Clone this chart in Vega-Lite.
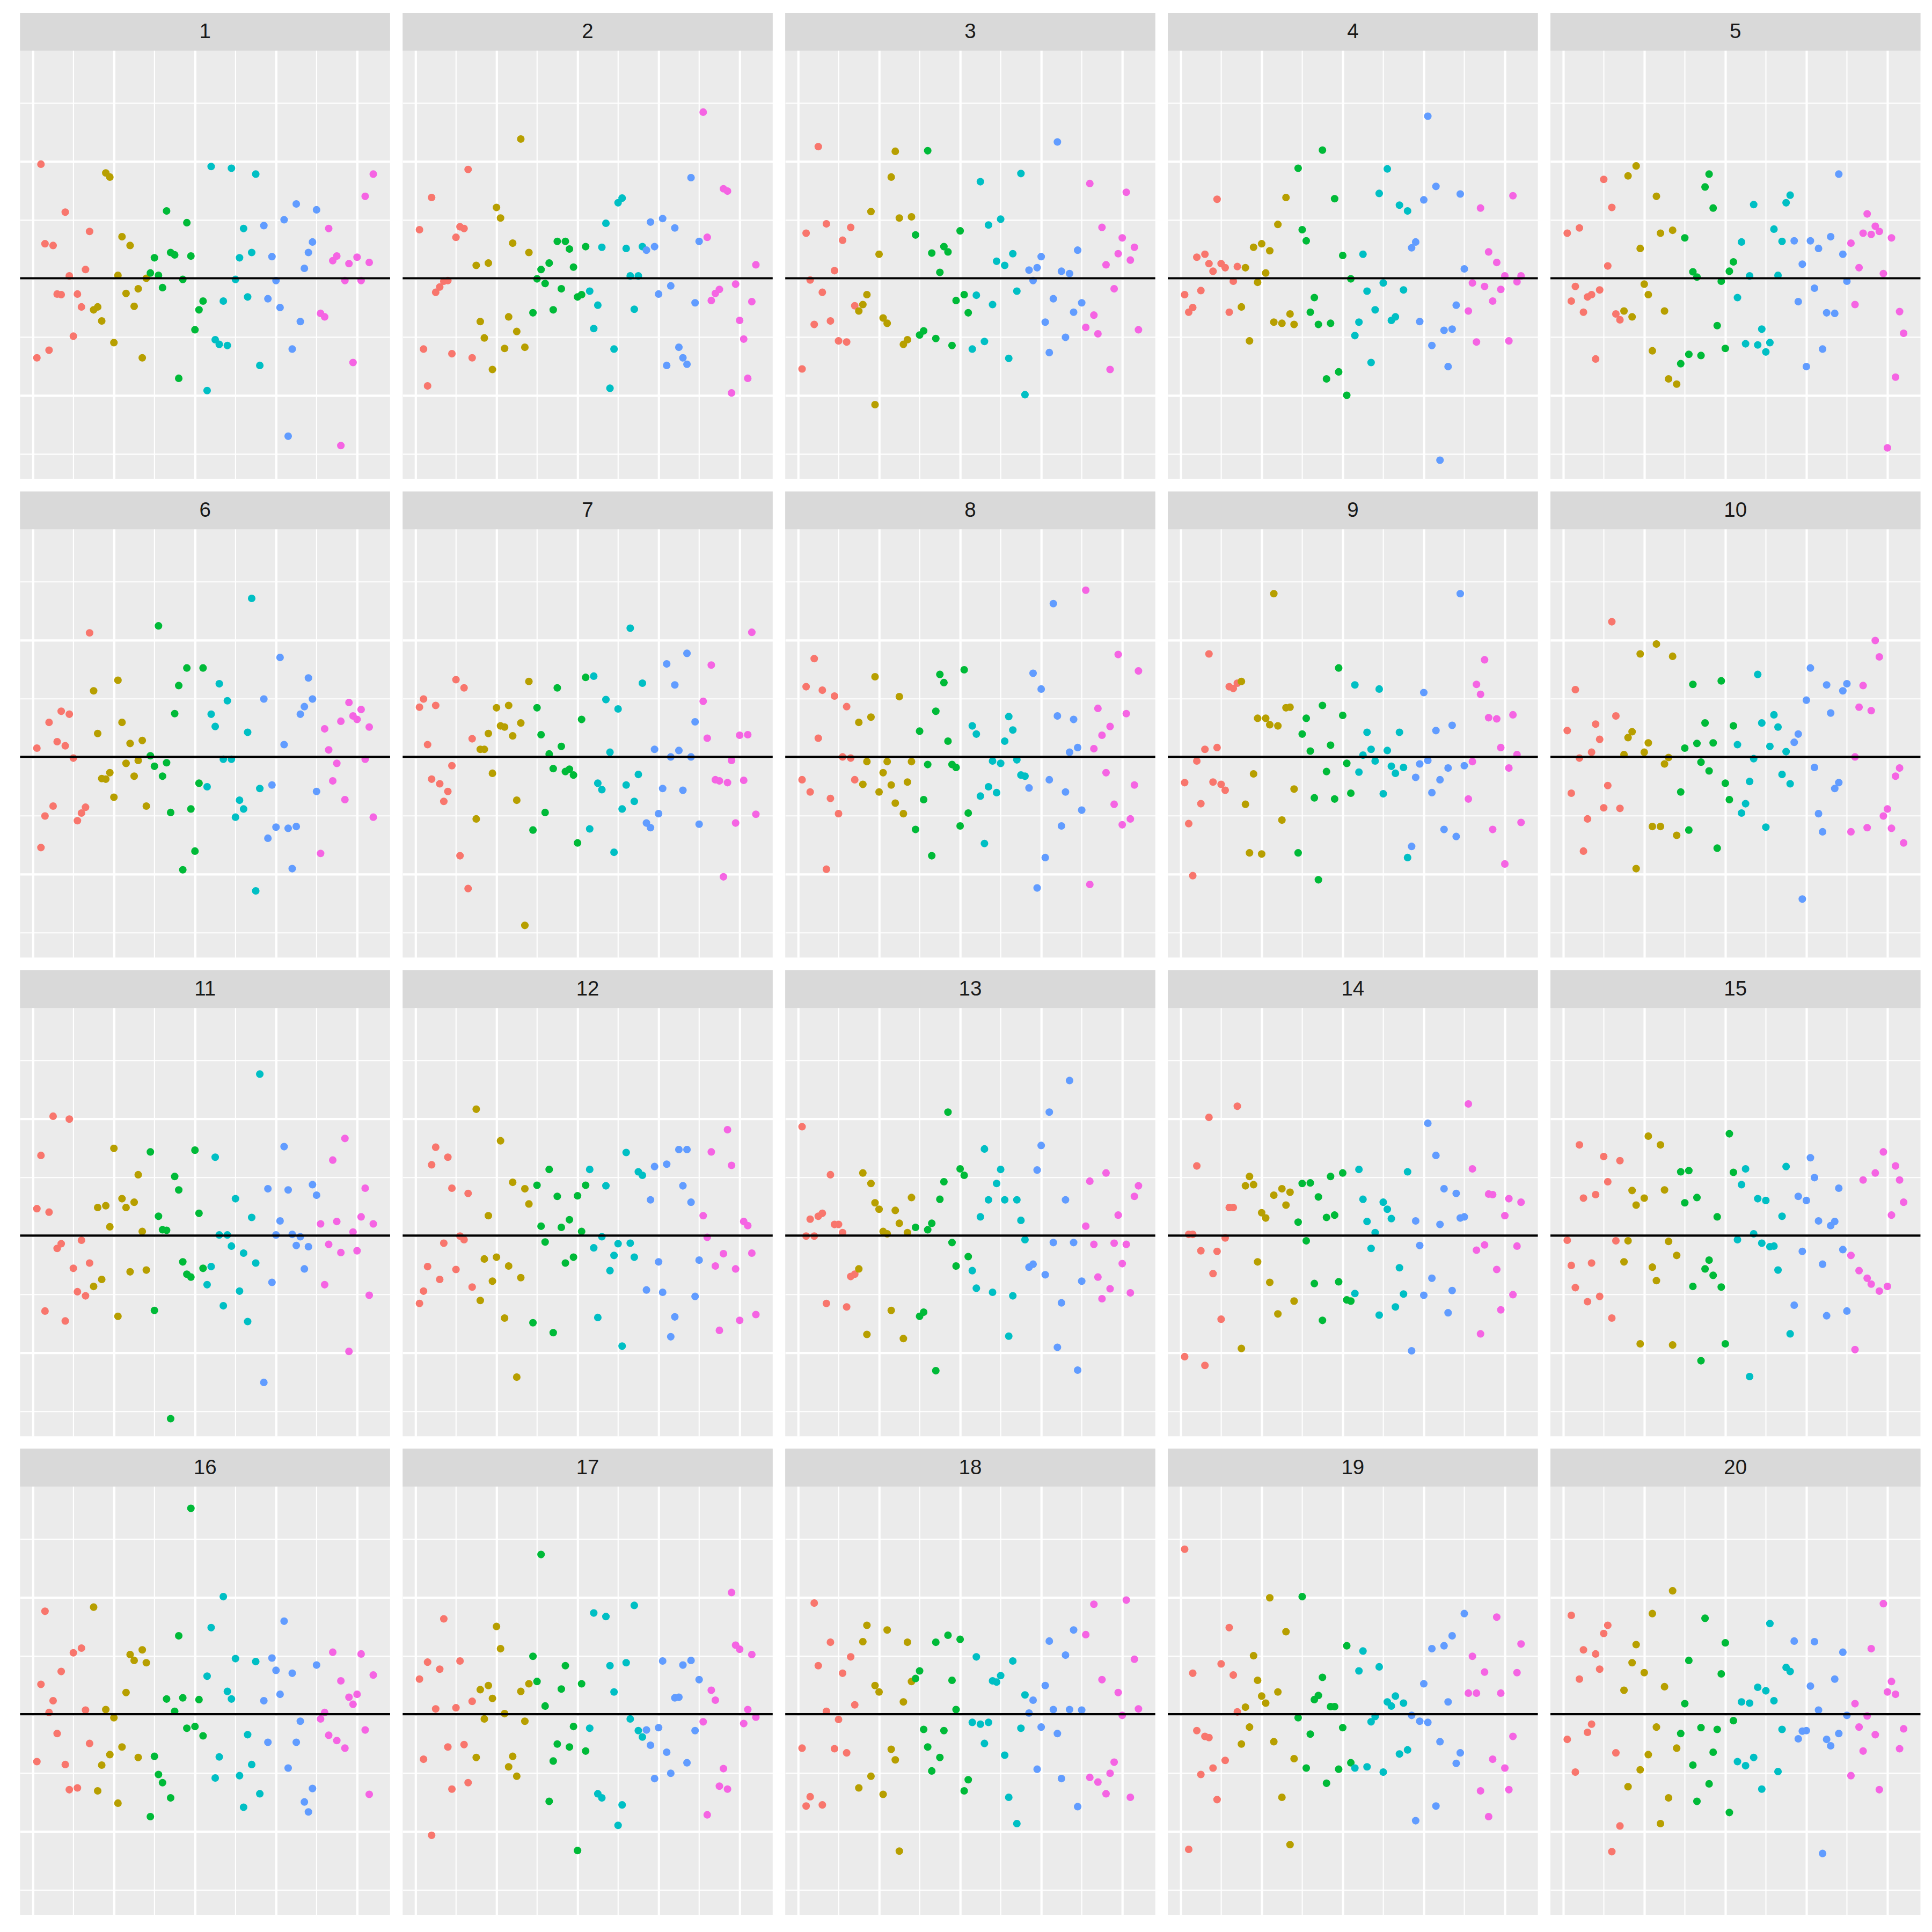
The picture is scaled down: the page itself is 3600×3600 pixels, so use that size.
{
"$schema": "https://vega.github.io/schema/vega-lite/v6.json",
"background": "white",
"bounds": "flush",
"padding": {"left": 34.4, "top": 22.9, "right": 0, "bottom": 0},
"data": {"values": [
{"p":1,"x":1,"g":1,"y":-1.36},{"p":1,"x":2,"g":1,"y":1.95},{"p":1,"x":3,"g":1,"y":0.59},{"p":1,"x":4,"g":1,"y":-1.23},{"p":1,"x":5,"g":1,"y":0.56},{"p":1,"x":6,"g":1,"y":-0.27},{"p":1,"x":7,"g":1,"y":-0.28},{"p":1,"x":8,"g":1,"y":1.13},{"p":1,"x":9,"g":1,"y":0.04},{"p":1,"x":10,"g":1,"y":-0.99},{"p":1,"x":11,"g":1,"y":-0.27},{"p":1,"x":12,"g":1,"y":-0.49},{"p":1,"x":13,"g":1,"y":0.15},{"p":1,"x":14,"g":1,"y":0.80},
{"p":1,"x":15,"g":2,"y":-0.54},{"p":1,"x":16,"g":2,"y":-0.49},{"p":1,"x":17,"g":2,"y":-0.73},{"p":1,"x":18,"g":2,"y":1.80},{"p":1,"x":19,"g":2,"y":1.73},{"p":1,"x":20,"g":2,"y":-1.10},{"p":1,"x":21,"g":2,"y":0.05},{"p":1,"x":22,"g":2,"y":0.71},{"p":1,"x":23,"g":2,"y":-0.26},{"p":1,"x":24,"g":2,"y":0.56},{"p":1,"x":25,"g":2,"y":-0.48},{"p":1,"x":26,"g":2,"y":-0.18},{"p":1,"x":27,"g":2,"y":-1.36},{"p":1,"x":28,"g":2,"y":0.00},
{"p":1,"x":29,"g":3,"y":0.09},{"p":1,"x":30,"g":3,"y":0.35},{"p":1,"x":31,"g":3,"y":0.05},{"p":1,"x":32,"g":3,"y":-0.16},{"p":1,"x":33,"g":3,"y":1.15},{"p":1,"x":34,"g":3,"y":0.44},{"p":1,"x":35,"g":3,"y":0.40},{"p":1,"x":36,"g":3,"y":-1.71},{"p":1,"x":37,"g":3,"y":-0.02},{"p":1,"x":38,"g":3,"y":0.95},{"p":1,"x":39,"g":3,"y":0.38},{"p":1,"x":40,"g":3,"y":-0.88},{"p":1,"x":41,"g":3,"y":-0.54},{"p":1,"x":42,"g":3,"y":-0.39},
{"p":1,"x":43,"g":4,"y":-1.92},{"p":1,"x":44,"g":4,"y":1.91},{"p":1,"x":45,"g":4,"y":-1.05},{"p":1,"x":46,"g":4,"y":-1.13},{"p":1,"x":47,"g":4,"y":-0.39},{"p":1,"x":48,"g":4,"y":-1.15},{"p":1,"x":49,"g":4,"y":1.88},{"p":1,"x":50,"g":4,"y":-0.02},{"p":1,"x":51,"g":4,"y":0.35},{"p":1,"x":52,"g":4,"y":0.85},{"p":1,"x":53,"g":4,"y":-0.32},{"p":1,"x":54,"g":4,"y":0.44},{"p":1,"x":55,"g":4,"y":1.78},{"p":1,"x":56,"g":4,"y":-1.49},
{"p":1,"x":57,"g":5,"y":0.90},{"p":1,"x":58,"g":5,"y":-0.35},{"p":1,"x":59,"g":5,"y":0.37},{"p":1,"x":60,"g":5,"y":-0.04},{"p":1,"x":61,"g":5,"y":-0.50},{"p":1,"x":62,"g":5,"y":1.00},{"p":1,"x":63,"g":5,"y":-2.70},{"p":1,"x":64,"g":5,"y":-1.21},{"p":1,"x":65,"g":5,"y":1.27},{"p":1,"x":66,"g":5,"y":-0.74},{"p":1,"x":67,"g":5,"y":0.17},{"p":1,"x":68,"g":5,"y":0.44},{"p":1,"x":69,"g":5,"y":0.62},{"p":1,"x":70,"g":5,"y":1.17},
{"p":1,"x":71,"g":6,"y":-0.60},{"p":1,"x":72,"g":6,"y":-0.66},{"p":1,"x":73,"g":6,"y":0.85},{"p":1,"x":74,"g":6,"y":0.30},{"p":1,"x":75,"g":6,"y":0.38},{"p":1,"x":76,"g":6,"y":-2.86},{"p":1,"x":77,"g":6,"y":-0.04},{"p":1,"x":78,"g":6,"y":0.25},{"p":1,"x":79,"g":6,"y":-1.44},{"p":1,"x":80,"g":6,"y":0.36},{"p":1,"x":81,"g":6,"y":-0.04},{"p":1,"x":82,"g":6,"y":1.40},{"p":1,"x":83,"g":6,"y":0.27},{"p":1,"x":84,"g":6,"y":1.78},
{"p":2,"x":1,"g":1,"y":0.83},{"p":2,"x":2,"g":1,"y":-1.21},{"p":2,"x":3,"g":1,"y":-1.84},{"p":2,"x":4,"g":1,"y":1.38},{"p":2,"x":5,"g":1,"y":-0.24},{"p":2,"x":6,"g":1,"y":-0.15},{"p":2,"x":7,"g":1,"y":-0.05},{"p":2,"x":8,"g":1,"y":-0.04},{"p":2,"x":9,"g":1,"y":-1.29},{"p":2,"x":10,"g":1,"y":0.70},{"p":2,"x":11,"g":1,"y":0.88},{"p":2,"x":12,"g":1,"y":0.85},{"p":2,"x":13,"g":1,"y":1.86},{"p":2,"x":14,"g":1,"y":-1.36},
{"p":2,"x":15,"g":2,"y":0.22},{"p":2,"x":16,"g":2,"y":-0.74},{"p":2,"x":17,"g":2,"y":-1.02},{"p":2,"x":18,"g":2,"y":0.26},{"p":2,"x":19,"g":2,"y":-1.56},{"p":2,"x":20,"g":2,"y":1.21},{"p":2,"x":21,"g":2,"y":1.03},{"p":2,"x":22,"g":2,"y":-1.20},{"p":2,"x":23,"g":2,"y":-0.66},{"p":2,"x":24,"g":2,"y":0.60},{"p":2,"x":25,"g":2,"y":-0.91},{"p":2,"x":26,"g":2,"y":2.38},{"p":2,"x":27,"g":2,"y":-1.18},{"p":2,"x":28,"g":2,"y":0.44},
{"p":2,"x":29,"g":3,"y":-0.59},{"p":2,"x":30,"g":3,"y":-0.01},{"p":2,"x":31,"g":3,"y":0.15},{"p":2,"x":32,"g":3,"y":-0.09},{"p":2,"x":33,"g":3,"y":0.26},{"p":2,"x":34,"g":3,"y":-0.54},{"p":2,"x":35,"g":3,"y":0.63},{"p":2,"x":36,"g":3,"y":-0.18},{"p":2,"x":37,"g":3,"y":0.63},{"p":2,"x":38,"g":3,"y":0.50},{"p":2,"x":39,"g":3,"y":0.19},{"p":2,"x":40,"g":3,"y":-0.32},{"p":2,"x":41,"g":3,"y":-0.28},{"p":2,"x":42,"g":3,"y":0.54},
{"p":2,"x":43,"g":4,"y":-0.22},{"p":2,"x":44,"g":4,"y":-0.86},{"p":2,"x":45,"g":4,"y":-0.46},{"p":2,"x":46,"g":4,"y":0.53},{"p":2,"x":47,"g":4,"y":0.94},{"p":2,"x":48,"g":4,"y":-1.88},{"p":2,"x":49,"g":4,"y":-1.21},{"p":2,"x":50,"g":4,"y":1.29},{"p":2,"x":51,"g":4,"y":1.37},{"p":2,"x":52,"g":4,"y":0.51},{"p":2,"x":53,"g":4,"y":0.04},{"p":2,"x":54,"g":4,"y":-0.53},{"p":2,"x":55,"g":4,"y":0.04},{"p":2,"x":56,"g":4,"y":0.54},
{"p":2,"x":57,"g":5,"y":0.48},{"p":2,"x":58,"g":5,"y":0.96},{"p":2,"x":59,"g":5,"y":0.54},{"p":2,"x":60,"g":5,"y":-0.27},{"p":2,"x":61,"g":5,"y":1.02},{"p":2,"x":62,"g":5,"y":-1.49},{"p":2,"x":63,"g":5,"y":-0.13},{"p":2,"x":64,"g":5,"y":0.86},{"p":2,"x":65,"g":5,"y":-1.18},{"p":2,"x":66,"g":5,"y":-1.36},{"p":2,"x":67,"g":5,"y":-1.47},{"p":2,"x":68,"g":5,"y":1.72},{"p":2,"x":69,"g":5,"y":-0.42},{"p":2,"x":70,"g":5,"y":0.63},
{"p":2,"x":71,"g":6,"y":2.84},{"p":2,"x":72,"g":6,"y":0.70},{"p":2,"x":73,"g":6,"y":-0.38},{"p":2,"x":74,"g":6,"y":-0.26},{"p":2,"x":75,"g":6,"y":-0.19},{"p":2,"x":76,"g":6,"y":1.53},{"p":2,"x":77,"g":6,"y":1.49},{"p":2,"x":78,"g":6,"y":-1.96},{"p":2,"x":79,"g":6,"y":-0.10},{"p":2,"x":80,"g":6,"y":-0.72},{"p":2,"x":81,"g":6,"y":-1.04},{"p":2,"x":82,"g":6,"y":-1.71},{"p":2,"x":83,"g":6,"y":-0.40},{"p":2,"x":84,"g":6,"y":0.23},
{"p":3,"x":1,"g":1,"y":-1.55},{"p":3,"x":2,"g":1,"y":0.77},{"p":3,"x":3,"g":1,"y":-0.03},{"p":3,"x":4,"g":1,"y":-0.79},{"p":3,"x":5,"g":1,"y":2.25},{"p":3,"x":6,"g":1,"y":-0.24},{"p":3,"x":7,"g":1,"y":0.93},{"p":3,"x":8,"g":1,"y":-0.73},{"p":3,"x":9,"g":1,"y":0.13},{"p":3,"x":10,"g":1,"y":-1.07},{"p":3,"x":11,"g":1,"y":0.65},{"p":3,"x":12,"g":1,"y":-1.09},{"p":3,"x":13,"g":1,"y":0.87},{"p":3,"x":14,"g":1,"y":-0.47},
{"p":3,"x":15,"g":2,"y":-0.56},{"p":3,"x":16,"g":2,"y":-0.45},{"p":3,"x":17,"g":2,"y":-0.28},{"p":3,"x":18,"g":2,"y":1.14},{"p":3,"x":19,"g":2,"y":-2.16},{"p":3,"x":20,"g":2,"y":0.41},{"p":3,"x":21,"g":2,"y":-0.68},{"p":3,"x":22,"g":2,"y":-0.77},{"p":3,"x":23,"g":2,"y":1.73},{"p":3,"x":24,"g":2,"y":2.17},{"p":3,"x":25,"g":2,"y":1.03},{"p":3,"x":26,"g":2,"y":-1.13},{"p":3,"x":27,"g":2,"y":-1.05},{"p":3,"x":28,"g":2,"y":1.05},
{"p":3,"x":29,"g":3,"y":0.74},{"p":3,"x":30,"g":3,"y":-0.97},{"p":3,"x":31,"g":3,"y":-0.90},{"p":3,"x":32,"g":3,"y":2.18},{"p":3,"x":33,"g":3,"y":0.43},{"p":3,"x":34,"g":3,"y":-1.03},{"p":3,"x":35,"g":3,"y":0.10},{"p":3,"x":36,"g":3,"y":0.54},{"p":3,"x":37,"g":3,"y":0.45},{"p":3,"x":38,"g":3,"y":-1.15},{"p":3,"x":39,"g":3,"y":-0.38},{"p":3,"x":40,"g":3,"y":0.81},{"p":3,"x":41,"g":3,"y":-0.28},{"p":3,"x":42,"g":3,"y":-0.59},
{"p":3,"x":43,"g":4,"y":-1.21},{"p":3,"x":44,"g":4,"y":-0.29},{"p":3,"x":45,"g":4,"y":1.65},{"p":3,"x":46,"g":4,"y":-1.08},{"p":3,"x":47,"g":4,"y":0.91},{"p":3,"x":48,"g":4,"y":-0.45},{"p":3,"x":49,"g":4,"y":0.29},{"p":3,"x":50,"g":4,"y":1.01},{"p":3,"x":51,"g":4,"y":0.22},{"p":3,"x":52,"g":4,"y":-1.37},{"p":3,"x":53,"g":4,"y":0.42},{"p":3,"x":54,"g":4,"y":-0.22},{"p":3,"x":55,"g":4,"y":1.79},{"p":3,"x":56,"g":4,"y":-1.99},
{"p":3,"x":57,"g":5,"y":0.14},{"p":3,"x":58,"g":5,"y":-0.04},{"p":3,"x":59,"g":5,"y":0.18},{"p":3,"x":60,"g":5,"y":0.37},{"p":3,"x":61,"g":5,"y":-0.75},{"p":3,"x":62,"g":5,"y":-1.27},{"p":3,"x":63,"g":5,"y":-0.35},{"p":3,"x":64,"g":5,"y":2.33},{"p":3,"x":65,"g":5,"y":0.12},{"p":3,"x":66,"g":5,"y":-1.01},{"p":3,"x":67,"g":5,"y":0.08},{"p":3,"x":68,"g":5,"y":-0.58},{"p":3,"x":69,"g":5,"y":0.48},{"p":3,"x":70,"g":5,"y":-0.42},
{"p":3,"x":71,"g":6,"y":-0.84},{"p":3,"x":72,"g":6,"y":1.62},{"p":3,"x":73,"g":6,"y":-0.63},{"p":3,"x":74,"g":6,"y":-0.95},{"p":3,"x":75,"g":6,"y":0.87},{"p":3,"x":76,"g":6,"y":0.23},{"p":3,"x":77,"g":6,"y":-1.56},{"p":3,"x":78,"g":6,"y":-0.18},{"p":3,"x":79,"g":6,"y":0.42},{"p":3,"x":80,"g":6,"y":0.69},{"p":3,"x":81,"g":6,"y":1.47},{"p":3,"x":82,"g":6,"y":0.31},{"p":3,"x":83,"g":6,"y":0.53},{"p":3,"x":84,"g":6,"y":-0.88},
{"p":4,"x":1,"g":1,"y":-0.28},{"p":4,"x":2,"g":1,"y":-0.58},{"p":4,"x":3,"g":1,"y":-0.50},{"p":4,"x":4,"g":1,"y":0.36},{"p":4,"x":5,"g":1,"y":-0.21},{"p":4,"x":6,"g":1,"y":0.41},{"p":4,"x":7,"g":1,"y":0.25},{"p":4,"x":8,"g":1,"y":0.12},{"p":4,"x":9,"g":1,"y":1.35},{"p":4,"x":10,"g":1,"y":0.25},{"p":4,"x":11,"g":1,"y":0.18},{"p":4,"x":12,"g":1,"y":-0.58},{"p":4,"x":13,"g":1,"y":-0.05},{"p":4,"x":14,"g":1,"y":0.20},
{"p":4,"x":15,"g":2,"y":-0.49},{"p":4,"x":16,"g":2,"y":0.18},{"p":4,"x":17,"g":2,"y":-1.07},{"p":4,"x":18,"g":2,"y":0.53},{"p":4,"x":19,"g":2,"y":-0.07},{"p":4,"x":20,"g":2,"y":0.59},{"p":4,"x":21,"g":2,"y":0.09},{"p":4,"x":22,"g":2,"y":0.47},{"p":4,"x":23,"g":2,"y":-0.75},{"p":4,"x":24,"g":2,"y":0.92},{"p":4,"x":25,"g":2,"y":-0.77},{"p":4,"x":26,"g":2,"y":1.38},{"p":4,"x":27,"g":2,"y":-0.61},{"p":4,"x":28,"g":2,"y":-0.79},
{"p":4,"x":29,"g":3,"y":1.88},{"p":4,"x":30,"g":3,"y":0.83},{"p":4,"x":31,"g":3,"y":0.64},{"p":4,"x":32,"g":3,"y":-0.58},{"p":4,"x":33,"g":3,"y":-0.33},{"p":4,"x":34,"g":3,"y":-0.79},{"p":4,"x":35,"g":3,"y":2.19},{"p":4,"x":36,"g":3,"y":-1.72},{"p":4,"x":37,"g":3,"y":-0.77},{"p":4,"x":38,"g":3,"y":1.36},{"p":4,"x":39,"g":3,"y":-1.60},{"p":4,"x":40,"g":3,"y":0.39},{"p":4,"x":41,"g":3,"y":-2.00},{"p":4,"x":42,"g":3,"y":-0.01},
{"p":4,"x":43,"g":4,"y":-0.98},{"p":4,"x":44,"g":4,"y":-0.75},{"p":4,"x":45,"g":4,"y":0.41},{"p":4,"x":46,"g":4,"y":-0.22},{"p":4,"x":47,"g":4,"y":-1.44},{"p":4,"x":48,"g":4,"y":-0.54},{"p":4,"x":49,"g":4,"y":1.45},{"p":4,"x":50,"g":4,"y":-0.08},{"p":4,"x":51,"g":4,"y":1.87},{"p":4,"x":52,"g":4,"y":-0.72},{"p":4,"x":53,"g":4,"y":-0.66},{"p":4,"x":54,"g":4,"y":1.25},{"p":4,"x":55,"g":4,"y":-0.20},{"p":4,"x":56,"g":4,"y":1.15},
{"p":4,"x":57,"g":5,"y":0.52},{"p":4,"x":58,"g":5,"y":0.62},{"p":4,"x":59,"g":5,"y":-0.74},{"p":4,"x":60,"g":5,"y":1.34},{"p":4,"x":61,"g":5,"y":2.77},{"p":4,"x":62,"g":5,"y":-1.15},{"p":4,"x":63,"g":5,"y":1.57},{"p":4,"x":64,"g":5,"y":-3.11},{"p":4,"x":65,"g":5,"y":-0.89},{"p":4,"x":66,"g":5,"y":-1.51},{"p":4,"x":67,"g":5,"y":-0.87},{"p":4,"x":68,"g":5,"y":-0.46},{"p":4,"x":69,"g":5,"y":1.44},{"p":4,"x":70,"g":5,"y":0.16},
{"p":4,"x":71,"g":6,"y":-0.56},{"p":4,"x":72,"g":6,"y":-0.08},{"p":4,"x":73,"g":6,"y":-1.09},{"p":4,"x":74,"g":6,"y":1.20},{"p":4,"x":75,"g":6,"y":-0.14},{"p":4,"x":76,"g":6,"y":0.45},{"p":4,"x":77,"g":6,"y":-0.39},{"p":4,"x":78,"g":6,"y":0.27},{"p":4,"x":79,"g":6,"y":-0.19},{"p":4,"x":80,"g":6,"y":0.04},{"p":4,"x":81,"g":6,"y":-1.07},{"p":4,"x":82,"g":6,"y":1.41},{"p":4,"x":83,"g":6,"y":-0.06},{"p":4,"x":84,"g":6,"y":0.04},
{"p":5,"x":1,"g":1,"y":0.77},{"p":5,"x":2,"g":1,"y":-0.39},{"p":5,"x":3,"g":1,"y":-0.14},{"p":5,"x":4,"g":1,"y":0.86},{"p":5,"x":5,"g":1,"y":-0.58},{"p":5,"x":6,"g":1,"y":-0.32},{"p":5,"x":7,"g":1,"y":-0.28},{"p":5,"x":8,"g":1,"y":-1.38},{"p":5,"x":9,"g":1,"y":-0.20},{"p":5,"x":10,"g":1,"y":1.69},{"p":5,"x":11,"g":1,"y":0.21},{"p":5,"x":12,"g":1,"y":1.21},{"p":5,"x":13,"g":1,"y":-0.61},{"p":5,"x":14,"g":1,"y":-0.71},
{"p":5,"x":15,"g":2,"y":-0.56},{"p":5,"x":16,"g":2,"y":1.75},{"p":5,"x":17,"g":2,"y":-0.66},{"p":5,"x":18,"g":2,"y":1.92},{"p":5,"x":19,"g":2,"y":0.51},{"p":5,"x":20,"g":2,"y":-0.10},{"p":5,"x":21,"g":2,"y":-0.28},{"p":5,"x":22,"g":2,"y":-1.24},{"p":5,"x":23,"g":2,"y":1.40},{"p":5,"x":24,"g":2,"y":0.77},{"p":5,"x":25,"g":2,"y":-0.56},{"p":5,"x":26,"g":2,"y":-1.72},{"p":5,"x":27,"g":2,"y":0.82},{"p":5,"x":28,"g":2,"y":-1.81},
{"p":5,"x":29,"g":3,"y":-1.46},{"p":5,"x":30,"g":3,"y":0.69},{"p":5,"x":31,"g":3,"y":-1.30},{"p":5,"x":32,"g":3,"y":0.11},{"p":5,"x":33,"g":3,"y":0.02},{"p":5,"x":34,"g":3,"y":-1.32},{"p":5,"x":35,"g":3,"y":1.56},{"p":5,"x":36,"g":3,"y":1.78},{"p":5,"x":37,"g":3,"y":1.20},{"p":5,"x":38,"g":3,"y":-0.81},{"p":5,"x":39,"g":3,"y":-0.05},{"p":5,"x":40,"g":3,"y":-1.20},{"p":5,"x":41,"g":3,"y":0.12},{"p":5,"x":42,"g":3,"y":0.28},
{"p":5,"x":43,"g":4,"y":-0.33},{"p":5,"x":44,"g":4,"y":0.62},{"p":5,"x":45,"g":4,"y":-1.12},{"p":5,"x":46,"g":4,"y":0.04},{"p":5,"x":47,"g":4,"y":1.26},{"p":5,"x":48,"g":4,"y":-1.14},{"p":5,"x":49,"g":4,"y":-0.87},{"p":5,"x":50,"g":4,"y":-1.26},{"p":5,"x":51,"g":4,"y":-1.10},{"p":5,"x":52,"g":4,"y":0.84},{"p":5,"x":53,"g":4,"y":0.05},{"p":5,"x":54,"g":4,"y":0.63},{"p":5,"x":55,"g":4,"y":1.29},{"p":5,"x":56,"g":4,"y":1.42},
{"p":5,"x":57,"g":5,"y":0.64},{"p":5,"x":58,"g":5,"y":-0.40},{"p":5,"x":59,"g":5,"y":0.24},{"p":5,"x":60,"g":5,"y":-1.51},{"p":5,"x":61,"g":5,"y":0.64},{"p":5,"x":62,"g":5,"y":-0.17},{"p":5,"x":63,"g":5,"y":0.51},{"p":5,"x":64,"g":5,"y":-1.21},{"p":5,"x":65,"g":5,"y":-0.59},{"p":5,"x":66,"g":5,"y":0.71},{"p":5,"x":67,"g":5,"y":-0.60},{"p":5,"x":68,"g":5,"y":1.78},{"p":5,"x":69,"g":5,"y":0.41},{"p":5,"x":70,"g":5,"y":-0.05},
{"p":5,"x":71,"g":6,"y":0.60},{"p":5,"x":72,"g":6,"y":-0.45},{"p":5,"x":73,"g":6,"y":0.18},{"p":5,"x":74,"g":6,"y":0.77},{"p":5,"x":75,"g":6,"y":1.10},{"p":5,"x":76,"g":6,"y":0.75},{"p":5,"x":77,"g":6,"y":0.89},{"p":5,"x":78,"g":6,"y":0.80},{"p":5,"x":79,"g":6,"y":0.08},{"p":5,"x":80,"g":6,"y":-2.90},{"p":5,"x":81,"g":6,"y":0.69},{"p":5,"x":82,"g":6,"y":-1.69},{"p":5,"x":83,"g":6,"y":-0.57},{"p":5,"x":84,"g":6,"y":-0.94},
{"p":6,"x":1,"g":1,"y":0.15},{"p":6,"x":2,"g":1,"y":-1.55},{"p":6,"x":3,"g":1,"y":-1.01},{"p":6,"x":4,"g":1,"y":0.59},{"p":6,"x":5,"g":1,"y":-0.84},{"p":6,"x":6,"g":1,"y":0.26},{"p":6,"x":7,"g":1,"y":0.78},{"p":6,"x":8,"g":1,"y":0.19},{"p":6,"x":9,"g":1,"y":0.73},{"p":6,"x":10,"g":1,"y":-0.02},{"p":6,"x":11,"g":1,"y":-1.09},{"p":6,"x":12,"g":1,"y":-0.96},{"p":6,"x":13,"g":1,"y":-0.86},{"p":6,"x":14,"g":1,"y":2.12},
{"p":6,"x":15,"g":2,"y":1.13},{"p":6,"x":16,"g":2,"y":0.40},{"p":6,"x":17,"g":2,"y":-0.37},{"p":6,"x":18,"g":2,"y":-0.38},{"p":6,"x":19,"g":2,"y":-0.27},{"p":6,"x":20,"g":2,"y":-0.69},{"p":6,"x":21,"g":2,"y":1.31},{"p":6,"x":22,"g":2,"y":0.59},{"p":6,"x":23,"g":2,"y":-0.11},{"p":6,"x":24,"g":2,"y":0.23},{"p":6,"x":25,"g":2,"y":-0.33},{"p":6,"x":26,"g":2,"y":-0.06},{"p":6,"x":27,"g":2,"y":0.28},{"p":6,"x":28,"g":2,"y":-0.84},
{"p":6,"x":29,"g":3,"y":0.02},{"p":6,"x":30,"g":3,"y":-0.16},{"p":6,"x":31,"g":3,"y":2.24},{"p":6,"x":32,"g":3,"y":-0.33},{"p":6,"x":33,"g":3,"y":-0.10},{"p":6,"x":34,"g":3,"y":-0.95},{"p":6,"x":35,"g":3,"y":0.74},{"p":6,"x":36,"g":3,"y":1.22},{"p":6,"x":37,"g":3,"y":-1.93},{"p":6,"x":38,"g":3,"y":1.52},{"p":6,"x":39,"g":3,"y":-0.89},{"p":6,"x":40,"g":3,"y":-1.61},{"p":6,"x":41,"g":3,"y":-0.45},{"p":6,"x":42,"g":3,"y":1.52},
{"p":6,"x":43,"g":4,"y":-0.51},{"p":6,"x":44,"g":4,"y":0.73},{"p":6,"x":45,"g":4,"y":0.52},{"p":6,"x":46,"g":4,"y":1.25},{"p":6,"x":47,"g":4,"y":-0.04},{"p":6,"x":48,"g":4,"y":0.96},{"p":6,"x":49,"g":4,"y":-0.04},{"p":6,"x":50,"g":4,"y":-1.03},{"p":6,"x":51,"g":4,"y":-0.74},{"p":6,"x":52,"g":4,"y":-0.89},{"p":6,"x":53,"g":4,"y":0.42},{"p":6,"x":54,"g":4,"y":2.71},{"p":6,"x":55,"g":4,"y":-2.29},{"p":6,"x":56,"g":4,"y":-0.54},
{"p":6,"x":57,"g":5,"y":0.99},{"p":6,"x":58,"g":5,"y":-1.39},{"p":6,"x":59,"g":5,"y":-0.48},{"p":6,"x":60,"g":5,"y":-1.20},{"p":6,"x":61,"g":5,"y":1.70},{"p":6,"x":62,"g":5,"y":0.21},{"p":6,"x":63,"g":5,"y":-1.22},{"p":6,"x":64,"g":5,"y":-1.91},{"p":6,"x":65,"g":5,"y":-1.19},{"p":6,"x":66,"g":5,"y":0.73},{"p":6,"x":67,"g":5,"y":0.86},{"p":6,"x":68,"g":5,"y":1.35},{"p":6,"x":69,"g":5,"y":0.99},{"p":6,"x":70,"g":5,"y":-0.59},
{"p":6,"x":71,"g":6,"y":-1.65},{"p":6,"x":72,"g":6,"y":0.48},{"p":6,"x":73,"g":6,"y":0.12},{"p":6,"x":74,"g":6,"y":-0.41},{"p":6,"x":75,"g":6,"y":-0.11},{"p":6,"x":76,"g":6,"y":0.61},{"p":6,"x":77,"g":6,"y":-0.73},{"p":6,"x":78,"g":6,"y":0.93},{"p":6,"x":79,"g":6,"y":0.70},{"p":6,"x":80,"g":6,"y":0.64},{"p":6,"x":81,"g":6,"y":0.81},{"p":6,"x":82,"g":6,"y":-0.04},{"p":6,"x":83,"g":6,"y":0.51},{"p":6,"x":84,"g":6,"y":-1.03},
{"p":7,"x":1,"g":1,"y":0.85},{"p":7,"x":2,"g":1,"y":0.99},{"p":7,"x":3,"g":1,"y":0.21},{"p":7,"x":4,"g":1,"y":-0.38},{"p":7,"x":5,"g":1,"y":0.88},{"p":7,"x":6,"g":1,"y":-0.46},{"p":7,"x":7,"g":1,"y":-0.76},{"p":7,"x":8,"g":1,"y":-0.59},{"p":7,"x":9,"g":1,"y":-0.15},{"p":7,"x":10,"g":1,"y":1.32},{"p":7,"x":11,"g":1,"y":-1.69},{"p":7,"x":12,"g":1,"y":1.18},{"p":7,"x":13,"g":1,"y":-2.25},{"p":7,"x":14,"g":1,"y":0.31},
{"p":7,"x":15,"g":2,"y":-1.06},{"p":7,"x":16,"g":2,"y":0.13},{"p":7,"x":17,"g":2,"y":0.13},{"p":7,"x":18,"g":2,"y":0.40},{"p":7,"x":19,"g":2,"y":-0.28},{"p":7,"x":20,"g":2,"y":0.84},{"p":7,"x":21,"g":2,"y":0.53},{"p":7,"x":22,"g":2,"y":0.51},{"p":7,"x":23,"g":2,"y":0.88},{"p":7,"x":24,"g":2,"y":0.36},{"p":7,"x":25,"g":2,"y":-0.74},{"p":7,"x":26,"g":2,"y":0.58},{"p":7,"x":27,"g":2,"y":-2.88},{"p":7,"x":28,"g":2,"y":1.29},
{"p":7,"x":29,"g":3,"y":-1.25},{"p":7,"x":30,"g":3,"y":0.84},{"p":7,"x":31,"g":3,"y":0.38},{"p":7,"x":32,"g":3,"y":-0.95},{"p":7,"x":33,"g":3,"y":0.05},{"p":7,"x":34,"g":3,"y":-0.20},{"p":7,"x":35,"g":3,"y":1.18},{"p":7,"x":36,"g":3,"y":0.18},{"p":7,"x":37,"g":3,"y":-0.25},{"p":7,"x":38,"g":3,"y":-0.21},{"p":7,"x":39,"g":3,"y":-0.31},{"p":7,"x":40,"g":3,"y":-1.47},{"p":7,"x":41,"g":3,"y":0.64},{"p":7,"x":42,"g":3,"y":1.36},
{"p":7,"x":43,"g":4,"y":-1.23},{"p":7,"x":44,"g":4,"y":1.38},{"p":7,"x":45,"g":4,"y":-0.45},{"p":7,"x":46,"g":4,"y":-0.56},{"p":7,"x":47,"g":4,"y":0.98},{"p":7,"x":48,"g":4,"y":0.08},{"p":7,"x":49,"g":4,"y":-1.63},{"p":7,"x":50,"g":4,"y":0.82},{"p":7,"x":51,"g":4,"y":-0.89},{"p":7,"x":52,"g":4,"y":-0.48},{"p":7,"x":53,"g":4,"y":2.20},{"p":7,"x":54,"g":4,"y":-0.76},{"p":7,"x":55,"g":4,"y":-0.30},{"p":7,"x":56,"g":4,"y":1.26},
{"p":7,"x":57,"g":5,"y":-1.13},{"p":7,"x":58,"g":5,"y":-1.21},{"p":7,"x":59,"g":5,"y":0.13},{"p":7,"x":60,"g":5,"y":-0.97},{"p":7,"x":61,"g":5,"y":-0.54},{"p":7,"x":62,"g":5,"y":1.59},{"p":7,"x":63,"g":5,"y":0.00},{"p":7,"x":64,"g":5,"y":1.23},{"p":7,"x":65,"g":5,"y":0.11},{"p":7,"x":66,"g":5,"y":-0.57},{"p":7,"x":67,"g":5,"y":1.77},{"p":7,"x":68,"g":5,"y":0.00},{"p":7,"x":69,"g":5,"y":0.60},{"p":7,"x":70,"g":5,"y":-1.15},
{"p":7,"x":71,"g":6,"y":0.95},{"p":7,"x":72,"g":6,"y":0.32},{"p":7,"x":73,"g":6,"y":1.57},{"p":7,"x":74,"g":6,"y":-0.39},{"p":7,"x":75,"g":6,"y":-0.41},{"p":7,"x":76,"g":6,"y":-2.05},{"p":7,"x":77,"g":6,"y":-0.44},{"p":7,"x":78,"g":6,"y":-0.06},{"p":7,"x":79,"g":6,"y":-1.13},{"p":7,"x":80,"g":6,"y":0.37},{"p":7,"x":81,"g":6,"y":-0.40},{"p":7,"x":82,"g":6,"y":0.38},{"p":7,"x":83,"g":6,"y":2.13},{"p":7,"x":84,"g":6,"y":-0.98},
{"p":8,"x":1,"g":1,"y":-0.39},{"p":8,"x":2,"g":1,"y":1.20},{"p":8,"x":3,"g":1,"y":-0.60},{"p":8,"x":4,"g":1,"y":1.68},{"p":8,"x":5,"g":1,"y":0.32},{"p":8,"x":6,"g":1,"y":1.14},{"p":8,"x":7,"g":1,"y":-1.92},{"p":8,"x":8,"g":1,"y":-0.71},{"p":8,"x":9,"g":1,"y":1.04},{"p":8,"x":10,"g":1,"y":-0.97},{"p":8,"x":11,"g":1,"y":0.00},{"p":8,"x":12,"g":1,"y":0.86},{"p":8,"x":13,"g":1,"y":-0.02},{"p":8,"x":14,"g":1,"y":-0.39},
{"p":8,"x":15,"g":2,"y":0.59},{"p":8,"x":16,"g":2,"y":-0.47},{"p":8,"x":17,"g":2,"y":-0.08},{"p":8,"x":18,"g":2,"y":0.68},{"p":8,"x":19,"g":2,"y":1.37},{"p":8,"x":20,"g":2,"y":-0.60},{"p":8,"x":21,"g":2,"y":-0.27},{"p":8,"x":22,"g":2,"y":-0.08},{"p":8,"x":23,"g":2,"y":-0.48},{"p":8,"x":24,"g":2,"y":-0.79},{"p":8,"x":25,"g":2,"y":1.03},{"p":8,"x":26,"g":2,"y":-0.97},{"p":8,"x":27,"g":2,"y":-0.43},{"p":8,"x":28,"g":2,"y":-0.08},
{"p":8,"x":29,"g":3,"y":-1.24},{"p":8,"x":30,"g":3,"y":0.44},{"p":8,"x":31,"g":3,"y":-0.73},{"p":8,"x":32,"g":3,"y":-0.13},{"p":8,"x":33,"g":3,"y":-1.69},{"p":8,"x":34,"g":3,"y":0.78},{"p":8,"x":35,"g":3,"y":1.41},{"p":8,"x":36,"g":3,"y":1.27},{"p":8,"x":37,"g":3,"y":0.27},{"p":8,"x":38,"g":3,"y":-0.13},{"p":8,"x":39,"g":3,"y":-0.18},{"p":8,"x":40,"g":3,"y":-1.18},{"p":8,"x":41,"g":3,"y":1.49},{"p":8,"x":42,"g":3,"y":-0.96},
{"p":8,"x":43,"g":4,"y":0.53},{"p":8,"x":44,"g":4,"y":0.39},{"p":8,"x":45,"g":4,"y":-0.67},{"p":8,"x":46,"g":4,"y":-1.48},{"p":8,"x":47,"g":4,"y":-0.51},{"p":8,"x":48,"g":4,"y":-0.07},{"p":8,"x":49,"g":4,"y":-0.61},{"p":8,"x":50,"g":4,"y":-0.11},{"p":8,"x":51,"g":4,"y":0.27},{"p":8,"x":52,"g":4,"y":0.69},{"p":8,"x":53,"g":4,"y":0.46},{"p":8,"x":54,"g":4,"y":-0.05},{"p":8,"x":55,"g":4,"y":-0.31},{"p":8,"x":56,"g":4,"y":-0.33},
{"p":8,"x":57,"g":5,"y":-0.53},{"p":8,"x":58,"g":5,"y":1.43},{"p":8,"x":59,"g":5,"y":-2.24},{"p":8,"x":60,"g":5,"y":1.16},{"p":8,"x":61,"g":5,"y":-1.72},{"p":8,"x":62,"g":5,"y":-0.39},{"p":8,"x":63,"g":5,"y":2.62},{"p":8,"x":64,"g":5,"y":0.70},{"p":8,"x":65,"g":5,"y":-1.18},{"p":8,"x":66,"g":5,"y":-0.60},{"p":8,"x":67,"g":5,"y":0.08},{"p":8,"x":68,"g":5,"y":0.64},{"p":8,"x":69,"g":5,"y":0.16},{"p":8,"x":70,"g":5,"y":-0.91},
{"p":8,"x":71,"g":6,"y":2.85},{"p":8,"x":72,"g":6,"y":-2.18},{"p":8,"x":73,"g":6,"y":0.14},{"p":8,"x":74,"g":6,"y":0.83},{"p":8,"x":75,"g":6,"y":0.37},{"p":8,"x":76,"g":6,"y":-0.27},{"p":8,"x":77,"g":6,"y":0.52},{"p":8,"x":78,"g":6,"y":-0.81},{"p":8,"x":79,"g":6,"y":1.75},{"p":8,"x":80,"g":6,"y":-1.16},{"p":8,"x":81,"g":6,"y":0.74},{"p":8,"x":82,"g":6,"y":-1.06},{"p":8,"x":83,"g":6,"y":-0.48},{"p":8,"x":84,"g":6,"y":1.47},
{"p":9,"x":1,"g":1,"y":-0.44},{"p":9,"x":2,"g":1,"y":-1.14},{"p":9,"x":3,"g":1,"y":-2.03},{"p":9,"x":4,"g":1,"y":-0.07},{"p":9,"x":5,"g":1,"y":-0.80},{"p":9,"x":6,"g":1,"y":0.13},{"p":9,"x":7,"g":1,"y":1.76},{"p":9,"x":8,"g":1,"y":-0.43},{"p":9,"x":9,"g":1,"y":0.16},{"p":9,"x":10,"g":1,"y":-0.47},{"p":9,"x":11,"g":1,"y":-0.57},{"p":9,"x":12,"g":1,"y":1.20},{"p":9,"x":13,"g":1,"y":1.17},{"p":9,"x":14,"g":1,"y":1.26},
{"p":9,"x":15,"g":2,"y":1.29},{"p":9,"x":16,"g":2,"y":-0.81},{"p":9,"x":17,"g":2,"y":-1.64},{"p":9,"x":18,"g":2,"y":-0.29},{"p":9,"x":19,"g":2,"y":0.66},{"p":9,"x":20,"g":2,"y":-1.66},{"p":9,"x":21,"g":2,"y":0.66},{"p":9,"x":22,"g":2,"y":0.55},{"p":9,"x":23,"g":2,"y":2.79},{"p":9,"x":24,"g":2,"y":0.53},{"p":9,"x":25,"g":2,"y":-1.08},{"p":9,"x":26,"g":2,"y":0.84},{"p":9,"x":27,"g":2,"y":0.85},{"p":9,"x":28,"g":2,"y":-0.55},
{"p":9,"x":29,"g":3,"y":-1.64},{"p":9,"x":30,"g":3,"y":0.39},{"p":9,"x":31,"g":3,"y":0.66},{"p":9,"x":32,"g":3,"y":0.10},{"p":9,"x":33,"g":3,"y":-0.70},{"p":9,"x":34,"g":3,"y":-2.10},{"p":9,"x":35,"g":3,"y":0.88},{"p":9,"x":36,"g":3,"y":-0.25},{"p":9,"x":37,"g":3,"y":0.20},{"p":9,"x":38,"g":3,"y":-0.72},{"p":9,"x":39,"g":3,"y":1.52},{"p":9,"x":40,"g":3,"y":0.71},{"p":9,"x":41,"g":3,"y":-0.11},{"p":9,"x":42,"g":3,"y":-0.62},
{"p":9,"x":43,"g":4,"y":1.23},{"p":9,"x":44,"g":4,"y":-0.26},{"p":9,"x":45,"g":4,"y":0.03},{"p":9,"x":46,"g":4,"y":0.42},{"p":9,"x":47,"g":4,"y":0.13},{"p":9,"x":48,"g":4,"y":-0.07},{"p":9,"x":49,"g":4,"y":1.16},{"p":9,"x":50,"g":4,"y":-0.63},{"p":9,"x":51,"g":4,"y":0.11},{"p":9,"x":52,"g":4,"y":-0.16},{"p":9,"x":53,"g":4,"y":-0.28},{"p":9,"x":54,"g":4,"y":0.42},{"p":9,"x":55,"g":4,"y":-0.18},{"p":9,"x":56,"g":4,"y":-1.72},
{"p":9,"x":57,"g":5,"y":-1.53},{"p":9,"x":58,"g":5,"y":-0.35},{"p":9,"x":59,"g":5,"y":-0.12},{"p":9,"x":60,"g":5,"y":1.10},{"p":9,"x":61,"g":5,"y":-0.06},{"p":9,"x":62,"g":5,"y":-0.61},{"p":9,"x":63,"g":5,"y":0.45},{"p":9,"x":64,"g":5,"y":-0.39},{"p":9,"x":65,"g":5,"y":-1.24},{"p":9,"x":66,"g":5,"y":-0.19},{"p":9,"x":67,"g":5,"y":0.54},{"p":9,"x":68,"g":5,"y":-1.36},{"p":9,"x":69,"g":5,"y":2.79},{"p":9,"x":70,"g":5,"y":-0.15},
{"p":9,"x":71,"g":6,"y":-0.72},{"p":9,"x":72,"g":6,"y":-0.08},{"p":9,"x":73,"g":6,"y":1.24},{"p":9,"x":74,"g":6,"y":1.07},{"p":9,"x":75,"g":6,"y":1.66},{"p":9,"x":76,"g":6,"y":0.67},{"p":9,"x":77,"g":6,"y":-1.24},{"p":9,"x":78,"g":6,"y":0.65},{"p":9,"x":79,"g":6,"y":0.16},{"p":9,"x":80,"g":6,"y":-1.83},{"p":9,"x":81,"g":6,"y":-0.19},{"p":9,"x":82,"g":6,"y":0.72},{"p":9,"x":83,"g":6,"y":0.04},{"p":9,"x":84,"g":6,"y":-1.12},
{"p":10,"x":1,"g":1,"y":0.45},{"p":10,"x":2,"g":1,"y":-0.62},{"p":10,"x":3,"g":1,"y":1.15},{"p":10,"x":4,"g":1,"y":-0.02},{"p":10,"x":5,"g":1,"y":-1.61},{"p":10,"x":6,"g":1,"y":-1.06},{"p":10,"x":7,"g":1,"y":0.08},{"p":10,"x":8,"g":1,"y":0.56},{"p":10,"x":9,"g":1,"y":0.30},{"p":10,"x":10,"g":1,"y":-0.87},{"p":10,"x":11,"g":1,"y":-0.49},{"p":10,"x":12,"g":1,"y":2.31},{"p":10,"x":13,"g":1,"y":0.70},{"p":10,"x":14,"g":1,"y":-0.88},
{"p":10,"x":15,"g":2,"y":0.04},{"p":10,"x":16,"g":2,"y":0.33},{"p":10,"x":17,"g":2,"y":0.43},{"p":10,"x":18,"g":2,"y":-1.91},{"p":10,"x":19,"g":2,"y":1.76},{"p":10,"x":20,"g":2,"y":0.08},{"p":10,"x":21,"g":2,"y":0.24},{"p":10,"x":22,"g":2,"y":-1.19},{"p":10,"x":23,"g":2,"y":1.93},{"p":10,"x":24,"g":2,"y":-1.19},{"p":10,"x":25,"g":2,"y":-0.12},{"p":10,"x":26,"g":2,"y":-0.01},{"p":10,"x":27,"g":2,"y":1.72},{"p":10,"x":28,"g":2,"y":-1.34},
{"p":10,"x":29,"g":3,"y":-0.60},{"p":10,"x":30,"g":3,"y":0.15},{"p":10,"x":31,"g":3,"y":-1.25},{"p":10,"x":32,"g":3,"y":1.24},{"p":10,"x":33,"g":3,"y":0.23},{"p":10,"x":34,"g":3,"y":-0.09},{"p":10,"x":35,"g":3,"y":0.58},{"p":10,"x":36,"g":3,"y":-0.24},{"p":10,"x":37,"g":3,"y":0.24},{"p":10,"x":38,"g":3,"y":-1.56},{"p":10,"x":39,"g":3,"y":1.30},{"p":10,"x":40,"g":3,"y":-0.45},{"p":10,"x":41,"g":3,"y":-0.73},{"p":10,"x":42,"g":3,"y":0.53},
{"p":10,"x":43,"g":4,"y":0.21},{"p":10,"x":44,"g":4,"y":-0.96},{"p":10,"x":45,"g":4,"y":-0.80},{"p":10,"x":46,"g":4,"y":-0.42},{"p":10,"x":47,"g":4,"y":-0.03},{"p":10,"x":48,"g":4,"y":1.41},{"p":10,"x":49,"g":4,"y":0.58},{"p":10,"x":50,"g":4,"y":-1.20},{"p":10,"x":51,"g":4,"y":0.18},{"p":10,"x":52,"g":4,"y":0.72},{"p":10,"x":53,"g":4,"y":0.51},{"p":10,"x":54,"g":4,"y":-0.30},{"p":10,"x":55,"g":4,"y":0.09},{"p":10,"x":56,"g":4,"y":-0.46},
{"p":10,"x":57,"g":5,"y":0.25},{"p":10,"x":58,"g":5,"y":0.39},{"p":10,"x":59,"g":5,"y":-2.43},{"p":10,"x":60,"g":5,"y":0.97},{"p":10,"x":61,"g":5,"y":1.52},{"p":10,"x":62,"g":5,"y":-0.18},{"p":10,"x":63,"g":5,"y":-0.97},{"p":10,"x":64,"g":5,"y":-1.28},{"p":10,"x":65,"g":5,"y":1.23},{"p":10,"x":66,"g":5,"y":0.75},{"p":10,"x":67,"g":5,"y":-0.54},{"p":10,"x":68,"g":5,"y":-0.44},{"p":10,"x":69,"g":5,"y":1.13},{"p":10,"x":70,"g":5,"y":1.25},
{"p":10,"x":71,"g":6,"y":-1.28},{"p":10,"x":72,"g":6,"y":0.00},{"p":10,"x":73,"g":6,"y":0.85},{"p":10,"x":74,"g":6,"y":1.22},{"p":10,"x":75,"g":6,"y":-1.21},{"p":10,"x":76,"g":6,"y":0.79},{"p":10,"x":77,"g":6,"y":1.99},{"p":10,"x":78,"g":6,"y":1.71},{"p":10,"x":79,"g":6,"y":-1.01},{"p":10,"x":80,"g":6,"y":-0.89},{"p":10,"x":81,"g":6,"y":-1.22},{"p":10,"x":82,"g":6,"y":-0.33},{"p":10,"x":83,"g":6,"y":-0.19},{"p":10,"x":84,"g":6,"y":-1.47},
{"p":11,"x":1,"g":1,"y":0.46},{"p":11,"x":2,"g":1,"y":1.37},{"p":11,"x":3,"g":1,"y":-1.29},{"p":11,"x":4,"g":1,"y":0.40},{"p":11,"x":5,"g":1,"y":2.04},{"p":11,"x":6,"g":1,"y":-0.22},{"p":11,"x":7,"g":1,"y":-0.14},{"p":11,"x":8,"g":1,"y":-1.46},{"p":11,"x":9,"g":1,"y":1.99},{"p":11,"x":10,"g":1,"y":-0.56},{"p":11,"x":11,"g":1,"y":-0.96},{"p":11,"x":12,"g":1,"y":-0.08},{"p":11,"x":13,"g":1,"y":-1.03},{"p":11,"x":14,"g":1,"y":-0.47},
{"p":11,"x":15,"g":2,"y":-0.87},{"p":11,"x":16,"g":2,"y":0.48},{"p":11,"x":17,"g":2,"y":-0.75},{"p":11,"x":18,"g":2,"y":0.51},{"p":11,"x":19,"g":2,"y":0.15},{"p":11,"x":20,"g":2,"y":1.49},{"p":11,"x":21,"g":2,"y":-1.38},{"p":11,"x":22,"g":2,"y":0.63},{"p":11,"x":23,"g":2,"y":0.48},{"p":11,"x":24,"g":2,"y":-0.62},{"p":11,"x":25,"g":2,"y":0.57},{"p":11,"x":26,"g":2,"y":1.04},{"p":11,"x":27,"g":2,"y":0.07},{"p":11,"x":28,"g":2,"y":-0.59},
{"p":11,"x":29,"g":3,"y":1.43},{"p":11,"x":30,"g":3,"y":-1.28},{"p":11,"x":31,"g":3,"y":0.33},{"p":11,"x":32,"g":3,"y":0.10},{"p":11,"x":33,"g":3,"y":0.09},{"p":11,"x":34,"g":3,"y":-3.13},{"p":11,"x":35,"g":3,"y":1.01},{"p":11,"x":36,"g":3,"y":0.78},{"p":11,"x":37,"g":3,"y":-0.45},{"p":11,"x":38,"g":3,"y":-0.66},{"p":11,"x":39,"g":3,"y":-0.71},{"p":11,"x":40,"g":3,"y":1.46},{"p":11,"x":41,"g":3,"y":0.38},{"p":11,"x":42,"g":3,"y":-0.56},
{"p":11,"x":43,"g":4,"y":-0.84},{"p":11,"x":44,"g":4,"y":-0.53},{"p":11,"x":45,"g":4,"y":1.34},{"p":11,"x":46,"g":4,"y":0.01},{"p":11,"x":47,"g":4,"y":-1.20},{"p":11,"x":48,"g":4,"y":0.01},{"p":11,"x":49,"g":4,"y":-0.18},{"p":11,"x":50,"g":4,"y":0.63},{"p":11,"x":51,"g":4,"y":-0.95},{"p":11,"x":52,"g":4,"y":-0.30},{"p":11,"x":53,"g":4,"y":-1.47},{"p":11,"x":54,"g":4,"y":0.31},{"p":11,"x":55,"g":4,"y":-0.47},{"p":11,"x":56,"g":4,"y":2.76},
{"p":11,"x":57,"g":5,"y":-2.51},{"p":11,"x":58,"g":5,"y":0.80},{"p":11,"x":59,"g":5,"y":-0.80},{"p":11,"x":60,"g":5,"y":0.01},{"p":11,"x":61,"g":5,"y":0.25},{"p":11,"x":62,"g":5,"y":1.52},{"p":11,"x":63,"g":5,"y":0.78},{"p":11,"x":64,"g":5,"y":0.02},{"p":11,"x":65,"g":5,"y":-0.17},{"p":11,"x":66,"g":5,"y":-0.02},{"p":11,"x":67,"g":5,"y":-0.57},{"p":11,"x":68,"g":5,"y":-0.19},{"p":11,"x":69,"g":5,"y":0.87},{"p":11,"x":70,"g":5,"y":0.69},
{"p":11,"x":71,"g":6,"y":0.20},{"p":11,"x":72,"g":6,"y":-0.84},{"p":11,"x":73,"g":6,"y":-0.15},{"p":11,"x":74,"g":6,"y":1.29},{"p":11,"x":75,"g":6,"y":0.24},{"p":11,"x":76,"g":6,"y":-0.29},{"p":11,"x":77,"g":6,"y":1.66},{"p":11,"x":78,"g":6,"y":-1.98},{"p":11,"x":79,"g":6,"y":0.06},{"p":11,"x":80,"g":6,"y":-0.26},{"p":11,"x":81,"g":6,"y":0.32},{"p":11,"x":82,"g":6,"y":0.81},{"p":11,"x":83,"g":6,"y":-1.02},{"p":11,"x":84,"g":6,"y":0.20},
{"p":12,"x":1,"g":1,"y":-1.16},{"p":12,"x":2,"g":1,"y":-0.95},{"p":12,"x":3,"g":1,"y":-0.53},{"p":12,"x":4,"g":1,"y":1.21},{"p":12,"x":5,"g":1,"y":1.51},{"p":12,"x":6,"g":1,"y":-0.75},{"p":12,"x":7,"g":1,"y":-0.13},{"p":12,"x":8,"g":1,"y":1.34},{"p":12,"x":9,"g":1,"y":0.81},{"p":12,"x":10,"g":1,"y":-0.58},{"p":12,"x":11,"g":1,"y":-0.01},{"p":12,"x":12,"g":1,"y":-0.07},{"p":12,"x":13,"g":1,"y":0.72},{"p":12,"x":14,"g":1,"y":-0.88},
{"p":12,"x":15,"g":2,"y":2.16},{"p":12,"x":16,"g":2,"y":-1.11},{"p":12,"x":17,"g":2,"y":-0.40},{"p":12,"x":18,"g":2,"y":0.34},{"p":12,"x":19,"g":2,"y":-0.78},{"p":12,"x":20,"g":2,"y":-0.37},{"p":12,"x":21,"g":2,"y":1.62},{"p":12,"x":22,"g":2,"y":-1.41},{"p":12,"x":23,"g":2,"y":-0.52},{"p":12,"x":24,"g":2,"y":0.91},{"p":12,"x":25,"g":2,"y":-2.42},{"p":12,"x":26,"g":2,"y":-0.72},{"p":12,"x":27,"g":2,"y":0.80},{"p":12,"x":28,"g":2,"y":0.54},
{"p":12,"x":29,"g":3,"y":-1.49},{"p":12,"x":30,"g":3,"y":0.86},{"p":12,"x":31,"g":3,"y":0.16},{"p":12,"x":32,"g":3,"y":-0.11},{"p":12,"x":33,"g":3,"y":1.13},{"p":12,"x":34,"g":3,"y":-1.66},{"p":12,"x":35,"g":3,"y":0.67},{"p":12,"x":36,"g":3,"y":0.14},{"p":12,"x":37,"g":3,"y":-0.47},{"p":12,"x":38,"g":3,"y":0.27},{"p":12,"x":39,"g":3,"y":-0.37},{"p":12,"x":40,"g":3,"y":0.68},{"p":12,"x":41,"g":3,"y":0.07},{"p":12,"x":42,"g":3,"y":0.86},
{"p":12,"x":43,"g":4,"y":1.13},{"p":12,"x":44,"g":4,"y":-0.21},{"p":12,"x":45,"g":4,"y":-1.40},{"p":12,"x":46,"g":4,"y":-0.02},{"p":12,"x":47,"g":4,"y":0.85},{"p":12,"x":48,"g":4,"y":-0.60},{"p":12,"x":49,"g":4,"y":-0.34},{"p":12,"x":50,"g":4,"y":-0.14},{"p":12,"x":51,"g":4,"y":-1.89},{"p":12,"x":52,"g":4,"y":1.42},{"p":12,"x":53,"g":4,"y":-0.13},{"p":12,"x":54,"g":4,"y":-0.37},{"p":12,"x":55,"g":4,"y":1.09},{"p":12,"x":56,"g":4,"y":1.03},
{"p":12,"x":57,"g":5,"y":-0.93},{"p":12,"x":58,"g":5,"y":0.61},{"p":12,"x":59,"g":5,"y":1.18},{"p":12,"x":60,"g":5,"y":-0.45},{"p":12,"x":61,"g":5,"y":-0.97},{"p":12,"x":62,"g":5,"y":1.22},{"p":12,"x":63,"g":5,"y":-1.73},{"p":12,"x":64,"g":5,"y":-1.39},{"p":12,"x":65,"g":5,"y":1.47},{"p":12,"x":66,"g":5,"y":0.85},{"p":12,"x":67,"g":5,"y":1.47},{"p":12,"x":68,"g":5,"y":0.57},{"p":12,"x":69,"g":5,"y":-1.04},{"p":12,"x":70,"g":5,"y":-0.42},
{"p":12,"x":71,"g":6,"y":0.34},{"p":12,"x":72,"g":6,"y":-0.03},{"p":12,"x":73,"g":6,"y":1.43},{"p":12,"x":74,"g":6,"y":-0.52},{"p":12,"x":75,"g":6,"y":-1.62},{"p":12,"x":76,"g":6,"y":-0.31},{"p":12,"x":77,"g":6,"y":1.81},{"p":12,"x":78,"g":6,"y":1.20},{"p":12,"x":79,"g":6,"y":-0.57},{"p":12,"x":80,"g":6,"y":-1.45},{"p":12,"x":81,"g":6,"y":0.24},{"p":12,"x":82,"g":6,"y":0.17},{"p":12,"x":83,"g":6,"y":-0.30},{"p":12,"x":84,"g":6,"y":-1.35},
{"p":13,"x":1,"g":1,"y":1.86},{"p":13,"x":2,"g":1,"y":-0.01},{"p":13,"x":3,"g":1,"y":0.28},{"p":13,"x":4,"g":1,"y":-0.01},{"p":13,"x":5,"g":1,"y":0.33},{"p":13,"x":6,"g":1,"y":0.38},{"p":13,"x":7,"g":1,"y":-1.16},{"p":13,"x":8,"g":1,"y":1.04},{"p":13,"x":9,"g":1,"y":0.19},{"p":13,"x":10,"g":1,"y":0.19},{"p":13,"x":11,"g":1,"y":0.05},{"p":13,"x":12,"g":1,"y":-1.22},{"p":13,"x":13,"g":1,"y":-0.70},{"p":13,"x":14,"g":1,"y":-0.66},
{"p":13,"x":15,"g":2,"y":-0.57},{"p":13,"x":16,"g":2,"y":1.07},{"p":13,"x":17,"g":2,"y":-1.69},{"p":13,"x":18,"g":2,"y":0.89},{"p":13,"x":19,"g":2,"y":0.56},{"p":13,"x":20,"g":2,"y":0.45},{"p":13,"x":21,"g":2,"y":0.07},{"p":13,"x":22,"g":2,"y":0.03},{"p":13,"x":23,"g":2,"y":-1.28},{"p":13,"x":24,"g":2,"y":0.43},{"p":13,"x":25,"g":2,"y":0.21},{"p":13,"x":26,"g":2,"y":-1.76},{"p":13,"x":27,"g":2,"y":0.05},{"p":13,"x":28,"g":2,"y":0.65},
{"p":13,"x":29,"g":3,"y":0.14},{"p":13,"x":30,"g":3,"y":-1.38},{"p":13,"x":31,"g":3,"y":-1.31},{"p":13,"x":32,"g":3,"y":0.10},{"p":13,"x":33,"g":3,"y":0.21},{"p":13,"x":34,"g":3,"y":-2.31},{"p":13,"x":35,"g":3,"y":0.62},{"p":13,"x":36,"g":3,"y":0.92},{"p":13,"x":37,"g":3,"y":2.11},{"p":13,"x":38,"g":3,"y":-0.12},{"p":13,"x":39,"g":3,"y":-0.52},{"p":13,"x":40,"g":3,"y":1.14},{"p":13,"x":41,"g":3,"y":1.03},{"p":13,"x":42,"g":3,"y":-0.36},
{"p":13,"x":43,"g":4,"y":-0.60},{"p":13,"x":44,"g":4,"y":-0.90},{"p":13,"x":45,"g":4,"y":0.32},{"p":13,"x":46,"g":4,"y":1.48},{"p":13,"x":47,"g":4,"y":0.61},{"p":13,"x":48,"g":4,"y":-0.97},{"p":13,"x":49,"g":4,"y":0.89},{"p":13,"x":50,"g":4,"y":1.13},{"p":13,"x":51,"g":4,"y":0.61},{"p":13,"x":52,"g":4,"y":-1.72},{"p":13,"x":53,"g":4,"y":-1.03},{"p":13,"x":54,"g":4,"y":0.61},{"p":13,"x":55,"g":4,"y":0.26},{"p":13,"x":56,"g":4,"y":-0.07},
{"p":13,"x":57,"g":5,"y":-0.54},{"p":13,"x":58,"g":5,"y":-0.49},{"p":13,"x":59,"g":5,"y":1.12},{"p":13,"x":60,"g":5,"y":1.54},{"p":13,"x":61,"g":5,"y":-0.67},{"p":13,"x":62,"g":5,"y":2.11},{"p":13,"x":63,"g":5,"y":-0.12},{"p":13,"x":64,"g":5,"y":-1.91},{"p":13,"x":65,"g":5,"y":-1.15},{"p":13,"x":66,"g":5,"y":0.61},{"p":13,"x":67,"g":5,"y":2.65},{"p":13,"x":68,"g":5,"y":-0.12},{"p":13,"x":69,"g":5,"y":-2.30},{"p":13,"x":70,"g":5,"y":-0.78},
{"p":13,"x":71,"g":6,"y":0.16},{"p":13,"x":72,"g":6,"y":0.93},{"p":13,"x":73,"g":6,"y":-0.15},{"p":13,"x":74,"g":6,"y":-0.71},{"p":13,"x":75,"g":6,"y":-1.08},{"p":13,"x":76,"g":6,"y":1.07},{"p":13,"x":77,"g":6,"y":-0.91},{"p":13,"x":78,"g":6,"y":-0.13},{"p":13,"x":79,"g":6,"y":0.35},{"p":13,"x":80,"g":6,"y":-0.48},{"p":13,"x":81,"g":6,"y":-0.15},{"p":13,"x":82,"g":6,"y":-0.98},{"p":13,"x":83,"g":6,"y":0.67},{"p":13,"x":84,"g":6,"y":0.85},
{"p":14,"x":1,"g":1,"y":-2.07},{"p":14,"x":2,"g":1,"y":0.02},{"p":14,"x":3,"g":1,"y":0.02},{"p":14,"x":4,"g":1,"y":1.19},{"p":14,"x":5,"g":1,"y":-0.26},{"p":14,"x":6,"g":1,"y":-2.22},{"p":14,"x":7,"g":1,"y":2.02},{"p":14,"x":8,"g":1,"y":-0.65},{"p":14,"x":9,"g":1,"y":-0.27},{"p":14,"x":10,"g":1,"y":-1.43},{"p":14,"x":11,"g":1,"y":-0.04},{"p":14,"x":12,"g":1,"y":0.48},{"p":14,"x":13,"g":1,"y":0.48},{"p":14,"x":14,"g":1,"y":2.21},
{"p":14,"x":15,"g":2,"y":-1.93},{"p":14,"x":16,"g":2,"y":0.85},{"p":14,"x":17,"g":2,"y":1.01},{"p":14,"x":18,"g":2,"y":0.87},{"p":14,"x":19,"g":2,"y":-0.45},{"p":14,"x":20,"g":2,"y":0.39},{"p":14,"x":21,"g":2,"y":0.30},{"p":14,"x":22,"g":2,"y":-0.80},{"p":14,"x":23,"g":2,"y":0.69},{"p":14,"x":24,"g":2,"y":-1.34},{"p":14,"x":25,"g":2,"y":0.80},{"p":14,"x":26,"g":2,"y":0.52},{"p":14,"x":27,"g":2,"y":0.74},{"p":14,"x":28,"g":2,"y":-1.12},
{"p":14,"x":29,"g":3,"y":0.23},{"p":14,"x":30,"g":3,"y":0.89},{"p":14,"x":31,"g":3,"y":-0.09},{"p":14,"x":32,"g":3,"y":0.90},{"p":14,"x":33,"g":3,"y":-0.82},{"p":14,"x":34,"g":3,"y":0.66},{"p":14,"x":35,"g":3,"y":-1.45},{"p":14,"x":36,"g":3,"y":0.31},{"p":14,"x":37,"g":3,"y":1.01},{"p":14,"x":38,"g":3,"y":0.35},{"p":14,"x":39,"g":3,"y":-0.79},{"p":14,"x":40,"g":3,"y":1.07},{"p":14,"x":41,"g":3,"y":-1.10},{"p":14,"x":42,"g":3,"y":-1.12},
{"p":14,"x":43,"g":4,"y":-0.99},{"p":14,"x":44,"g":4,"y":1.13},{"p":14,"x":45,"g":4,"y":0.62},{"p":14,"x":46,"g":4,"y":0.24},{"p":14,"x":47,"g":4,"y":-0.22},{"p":14,"x":48,"g":4,"y":0.05},{"p":14,"x":49,"g":4,"y":-1.36},{"p":14,"x":50,"g":4,"y":0.57},{"p":14,"x":51,"g":4,"y":0.45},{"p":14,"x":52,"g":4,"y":0.29},{"p":14,"x":53,"g":4,"y":-1.22},{"p":14,"x":54,"g":4,"y":-0.55},{"p":14,"x":55,"g":4,"y":-1.00},{"p":14,"x":56,"g":4,"y":1.09},
{"p":14,"x":57,"g":5,"y":-1.97},{"p":14,"x":58,"g":5,"y":0.25},{"p":14,"x":59,"g":5,"y":-0.17},{"p":14,"x":60,"g":5,"y":-1.02},{"p":14,"x":61,"g":5,"y":1.92},{"p":14,"x":62,"g":5,"y":-0.73},{"p":14,"x":63,"g":5,"y":1.37},{"p":14,"x":64,"g":5,"y":0.19},{"p":14,"x":65,"g":5,"y":0.80},{"p":14,"x":66,"g":5,"y":-1.32},{"p":14,"x":67,"g":5,"y":-0.94},{"p":14,"x":68,"g":5,"y":0.72},{"p":14,"x":69,"g":5,"y":0.30},{"p":14,"x":70,"g":5,"y":0.32},
{"p":14,"x":71,"g":6,"y":2.25},{"p":14,"x":72,"g":6,"y":1.14},{"p":14,"x":73,"g":6,"y":-0.25},{"p":14,"x":74,"g":6,"y":-1.68},{"p":14,"x":75,"g":6,"y":-0.16},{"p":14,"x":76,"g":6,"y":0.71},{"p":14,"x":77,"g":6,"y":0.70},{"p":14,"x":78,"g":6,"y":-0.58},{"p":14,"x":79,"g":6,"y":-1.27},{"p":14,"x":80,"g":6,"y":0.34},{"p":14,"x":81,"g":6,"y":0.63},{"p":14,"x":82,"g":6,"y":-1.01},{"p":14,"x":83,"g":6,"y":-0.18},{"p":14,"x":84,"g":6,"y":0.57},
{"p":15,"x":1,"g":1,"y":-0.08},{"p":15,"x":2,"g":1,"y":-0.51},{"p":15,"x":3,"g":1,"y":-0.89},{"p":15,"x":4,"g":1,"y":1.55},{"p":15,"x":5,"g":1,"y":0.64},{"p":15,"x":6,"g":1,"y":-1.13},{"p":15,"x":7,"g":1,"y":-0.47},{"p":15,"x":8,"g":1,"y":0.70},{"p":15,"x":9,"g":1,"y":-1.04},{"p":15,"x":10,"g":1,"y":1.35},{"p":15,"x":11,"g":1,"y":0.92},{"p":15,"x":12,"g":1,"y":-1.41},{"p":15,"x":13,"g":1,"y":-0.09},{"p":15,"x":14,"g":1,"y":1.28},
{"p":15,"x":15,"g":2,"y":-0.45},{"p":15,"x":16,"g":2,"y":-0.09},{"p":15,"x":17,"g":2,"y":0.77},{"p":15,"x":18,"g":2,"y":0.52},{"p":15,"x":19,"g":2,"y":-1.85},{"p":15,"x":20,"g":2,"y":0.64},{"p":15,"x":21,"g":2,"y":1.70},{"p":15,"x":22,"g":2,"y":-0.54},{"p":15,"x":23,"g":2,"y":-0.77},{"p":15,"x":24,"g":2,"y":1.55},{"p":15,"x":25,"g":2,"y":0.78},{"p":15,"x":26,"g":2,"y":-0.10},{"p":15,"x":27,"g":2,"y":-1.87},{"p":15,"x":28,"g":2,"y":-0.34},
{"p":15,"x":29,"g":3,"y":1.09},{"p":15,"x":30,"g":3,"y":0.56},{"p":15,"x":31,"g":3,"y":1.11},{"p":15,"x":32,"g":3,"y":-0.87},{"p":15,"x":33,"g":3,"y":0.65},{"p":15,"x":34,"g":3,"y":-2.14},{"p":15,"x":35,"g":3,"y":-0.57},{"p":15,"x":36,"g":3,"y":-0.42},{"p":15,"x":37,"g":3,"y":-0.68},{"p":15,"x":38,"g":3,"y":0.32},{"p":15,"x":39,"g":3,"y":-0.88},{"p":15,"x":40,"g":3,"y":-1.85},{"p":15,"x":41,"g":3,"y":1.74},{"p":15,"x":42,"g":3,"y":1.08},
{"p":15,"x":43,"g":4,"y":-0.07},{"p":15,"x":44,"g":4,"y":0.87},{"p":15,"x":45,"g":4,"y":1.14},{"p":15,"x":46,"g":4,"y":-2.41},{"p":15,"x":47,"g":4,"y":0.03},{"p":15,"x":48,"g":4,"y":0.63},{"p":15,"x":49,"g":4,"y":-0.13},{"p":15,"x":50,"g":4,"y":0.60},{"p":15,"x":51,"g":4,"y":-0.19},{"p":15,"x":52,"g":4,"y":-0.18},{"p":15,"x":53,"g":4,"y":-0.59},{"p":15,"x":54,"g":4,"y":0.33},{"p":15,"x":55,"g":4,"y":1.18},{"p":15,"x":56,"g":4,"y":-1.68},
{"p":15,"x":57,"g":5,"y":-1.19},{"p":15,"x":58,"g":5,"y":0.67},{"p":15,"x":59,"g":5,"y":-0.27},{"p":15,"x":60,"g":5,"y":0.60},{"p":15,"x":61,"g":5,"y":1.33},{"p":15,"x":62,"g":5,"y":0.99},{"p":15,"x":63,"g":5,"y":0.25},{"p":15,"x":64,"g":5,"y":-0.49},{"p":15,"x":65,"g":5,"y":-1.37},{"p":15,"x":66,"g":5,"y":0.17},{"p":15,"x":67,"g":5,"y":0.24},{"p":15,"x":68,"g":5,"y":0.81},{"p":15,"x":69,"g":5,"y":-0.24},{"p":15,"x":70,"g":5,"y":-1.29},
{"p":15,"x":71,"g":6,"y":-0.34},{"p":15,"x":72,"g":6,"y":-1.95},{"p":15,"x":73,"g":6,"y":-0.60},{"p":15,"x":74,"g":6,"y":0.95},{"p":15,"x":75,"g":6,"y":-0.73},{"p":15,"x":76,"g":6,"y":-0.83},{"p":15,"x":77,"g":6,"y":1.07},{"p":15,"x":78,"g":6,"y":-0.95},{"p":15,"x":79,"g":6,"y":1.43},{"p":15,"x":80,"g":6,"y":-0.87},{"p":15,"x":81,"g":6,"y":0.35},{"p":15,"x":82,"g":6,"y":1.19},{"p":15,"x":83,"g":6,"y":0.95},{"p":15,"x":84,"g":6,"y":0.57},
{"p":16,"x":1,"g":1,"y":-0.81},{"p":16,"x":2,"g":1,"y":0.51},{"p":16,"x":3,"g":1,"y":1.76},{"p":16,"x":4,"g":1,"y":0.03},{"p":16,"x":5,"g":1,"y":0.23},{"p":16,"x":6,"g":1,"y":-0.33},{"p":16,"x":7,"g":1,"y":0.73},{"p":16,"x":8,"g":1,"y":-0.86},{"p":16,"x":9,"g":1,"y":-1.29},{"p":16,"x":10,"g":1,"y":1.05},{"p":16,"x":11,"g":1,"y":-1.26},{"p":16,"x":12,"g":1,"y":1.13},{"p":16,"x":13,"g":1,"y":0.07},{"p":16,"x":14,"g":1,"y":-0.50},
{"p":16,"x":15,"g":2,"y":1.83},{"p":16,"x":16,"g":2,"y":-1.31},{"p":16,"x":17,"g":2,"y":-0.87},{"p":16,"x":18,"g":2,"y":0.08},{"p":16,"x":19,"g":2,"y":-0.69},{"p":16,"x":20,"g":2,"y":-0.06},{"p":16,"x":21,"g":2,"y":-1.52},{"p":16,"x":22,"g":2,"y":-0.56},{"p":16,"x":23,"g":2,"y":0.37},{"p":16,"x":24,"g":2,"y":1.02},{"p":16,"x":25,"g":2,"y":0.92},{"p":16,"x":26,"g":2,"y":-0.74},{"p":16,"x":27,"g":2,"y":1.10},{"p":16,"x":28,"g":2,"y":0.88},
{"p":16,"x":29,"g":3,"y":-1.75},{"p":16,"x":30,"g":3,"y":-0.72},{"p":16,"x":31,"g":3,"y":-1.03},{"p":16,"x":32,"g":3,"y":-1.17},{"p":16,"x":33,"g":3,"y":0.26},{"p":16,"x":34,"g":3,"y":-1.43},{"p":16,"x":35,"g":3,"y":0.05},{"p":16,"x":36,"g":3,"y":1.34},{"p":16,"x":37,"g":3,"y":0.28},{"p":16,"x":38,"g":3,"y":-0.24},{"p":16,"x":39,"g":3,"y":3.52},{"p":16,"x":40,"g":3,"y":-0.21},{"p":16,"x":41,"g":3,"y":0.25},{"p":16,"x":42,"g":3,"y":-0.37},
{"p":16,"x":43,"g":4,"y":0.65},{"p":16,"x":44,"g":4,"y":1.48},{"p":16,"x":45,"g":4,"y":-1.09},{"p":16,"x":46,"g":4,"y":-0.73},{"p":16,"x":47,"g":4,"y":2.01},{"p":16,"x":48,"g":4,"y":0.39},{"p":16,"x":49,"g":4,"y":0.26},{"p":16,"x":50,"g":4,"y":0.95},{"p":16,"x":51,"g":4,"y":-1.05},{"p":16,"x":52,"g":4,"y":-1.59},{"p":16,"x":53,"g":4,"y":-0.35},{"p":16,"x":54,"g":4,"y":-0.86},{"p":16,"x":55,"g":4,"y":0.90},{"p":16,"x":56,"g":4,"y":-1.36},
{"p":16,"x":57,"g":5,"y":0.23},{"p":16,"x":58,"g":5,"y":-0.48},{"p":16,"x":59,"g":5,"y":0.96},{"p":16,"x":60,"g":5,"y":0.75},{"p":16,"x":61,"g":5,"y":0.34},{"p":16,"x":62,"g":5,"y":1.59},{"p":16,"x":63,"g":5,"y":-0.92},{"p":16,"x":64,"g":5,"y":0.70},{"p":16,"x":65,"g":5,"y":-0.48},{"p":16,"x":66,"g":5,"y":-0.12},{"p":16,"x":67,"g":5,"y":-1.50},{"p":16,"x":68,"g":5,"y":-1.67},{"p":16,"x":69,"g":5,"y":-1.27},{"p":16,"x":70,"g":5,"y":0.84},
{"p":16,"x":71,"g":6,"y":-0.08},{"p":16,"x":72,"g":6,"y":0.03},{"p":16,"x":73,"g":6,"y":-0.36},{"p":16,"x":74,"g":6,"y":1.06},{"p":16,"x":75,"g":6,"y":-0.45},{"p":16,"x":76,"g":6,"y":0.57},{"p":16,"x":77,"g":6,"y":-0.58},{"p":16,"x":78,"g":6,"y":0.29},{"p":16,"x":79,"g":6,"y":0.17},{"p":16,"x":80,"g":6,"y":0.34},{"p":16,"x":81,"g":6,"y":1.03},{"p":16,"x":82,"g":6,"y":-0.27},{"p":16,"x":83,"g":6,"y":-1.37},{"p":16,"x":84,"g":6,"y":0.67},
{"p":17,"x":1,"g":1,"y":0.60},{"p":17,"x":2,"g":1,"y":-0.77},{"p":17,"x":3,"g":1,"y":0.89},{"p":17,"x":4,"g":1,"y":-2.07},{"p":17,"x":5,"g":1,"y":0.09},{"p":17,"x":6,"g":1,"y":0.77},{"p":17,"x":7,"g":1,"y":1.63},{"p":17,"x":8,"g":1,"y":-0.56},{"p":17,"x":9,"g":1,"y":-1.28},{"p":17,"x":10,"g":1,"y":0.11},{"p":17,"x":11,"g":1,"y":0.91},{"p":17,"x":12,"g":1,"y":-0.52},{"p":17,"x":13,"g":1,"y":-1.17},{"p":17,"x":14,"g":1,"y":0.22},
{"p":17,"x":15,"g":2,"y":-0.74},{"p":17,"x":16,"g":2,"y":0.42},{"p":17,"x":17,"g":2,"y":-0.08},{"p":17,"x":18,"g":2,"y":0.49},{"p":17,"x":19,"g":2,"y":0.27},{"p":17,"x":20,"g":2,"y":1.50},{"p":17,"x":21,"g":2,"y":1.12},{"p":17,"x":22,"g":2,"y":0.01},{"p":17,"x":23,"g":2,"y":-0.90},{"p":17,"x":24,"g":2,"y":-0.72},{"p":17,"x":25,"g":2,"y":-1.06},{"p":17,"x":26,"g":2,"y":0.39},{"p":17,"x":27,"g":2,"y":-0.12},{"p":17,"x":28,"g":2,"y":0.52},
{"p":17,"x":29,"g":3,"y":0.99},{"p":17,"x":30,"g":3,"y":0.56},{"p":17,"x":31,"g":3,"y":2.73},{"p":17,"x":32,"g":3,"y":0.14},{"p":17,"x":33,"g":3,"y":-1.49},{"p":17,"x":34,"g":3,"y":-0.80},{"p":17,"x":35,"g":3,"y":-0.51},{"p":17,"x":36,"g":3,"y":0.43},{"p":17,"x":37,"g":3,"y":0.83},{"p":17,"x":38,"g":3,"y":-0.56},{"p":17,"x":39,"g":3,"y":-0.21},{"p":17,"x":40,"g":3,"y":-2.33},{"p":17,"x":41,"g":3,"y":0.52},{"p":17,"x":42,"g":3,"y":-0.63},
{"p":17,"x":43,"g":4,"y":-0.24},{"p":17,"x":44,"g":4,"y":1.73},{"p":17,"x":45,"g":4,"y":-1.36},{"p":17,"x":46,"g":4,"y":-1.43},{"p":17,"x":47,"g":4,"y":1.67},{"p":17,"x":48,"g":4,"y":0.83},{"p":17,"x":49,"g":4,"y":0.38},{"p":17,"x":50,"g":4,"y":-1.90},{"p":17,"x":51,"g":4,"y":-1.55},{"p":17,"x":52,"g":4,"y":0.88},{"p":17,"x":53,"g":4,"y":-0.08},{"p":17,"x":54,"g":4,"y":1.86},{"p":17,"x":55,"g":4,"y":-0.28},{"p":17,"x":56,"g":4,"y":-0.39},
{"p":17,"x":57,"g":5,"y":-0.27},{"p":17,"x":58,"g":5,"y":-0.53},{"p":17,"x":59,"g":5,"y":-1.10},{"p":17,"x":60,"g":5,"y":-0.23},{"p":17,"x":61,"g":5,"y":0.91},{"p":17,"x":62,"g":5,"y":-0.65},{"p":17,"x":63,"g":5,"y":-1.01},{"p":17,"x":64,"g":5,"y":0.28},{"p":17,"x":65,"g":5,"y":0.29},{"p":17,"x":66,"g":5,"y":0.84},{"p":17,"x":67,"g":5,"y":-0.83},{"p":17,"x":68,"g":5,"y":0.92},{"p":17,"x":69,"g":5,"y":-0.28},{"p":17,"x":70,"g":5,"y":0.59},
{"p":17,"x":71,"g":6,"y":-0.13},{"p":17,"x":72,"g":6,"y":-1.72},{"p":17,"x":73,"g":6,"y":0.41},{"p":17,"x":74,"g":6,"y":0.24},{"p":17,"x":75,"g":6,"y":-1.23},{"p":17,"x":76,"g":6,"y":-0.93},{"p":17,"x":77,"g":6,"y":-1.28},{"p":17,"x":78,"g":6,"y":2.08},{"p":17,"x":79,"g":6,"y":1.18},{"p":17,"x":80,"g":6,"y":1.11},{"p":17,"x":81,"g":6,"y":-0.16},{"p":17,"x":82,"g":6,"y":0.08},{"p":17,"x":83,"g":6,"y":1.02},{"p":17,"x":84,"g":6,"y":-0.05},
{"p":18,"x":1,"g":1,"y":-0.58},{"p":18,"x":2,"g":1,"y":-1.57},{"p":18,"x":3,"g":1,"y":-1.41},{"p":18,"x":4,"g":1,"y":1.90},{"p":18,"x":5,"g":1,"y":0.83},{"p":18,"x":6,"g":1,"y":-1.55},{"p":18,"x":7,"g":1,"y":0.05},{"p":18,"x":8,"g":1,"y":1.23},{"p":18,"x":9,"g":1,"y":-0.59},{"p":18,"x":10,"g":1,"y":-0.09},{"p":18,"x":11,"g":1,"y":0.70},{"p":18,"x":12,"g":1,"y":-0.66},{"p":18,"x":13,"g":1,"y":0.98},{"p":18,"x":14,"g":1,"y":0.16},
{"p":18,"x":15,"g":2,"y":-1.26},{"p":18,"x":16,"g":2,"y":1.24},{"p":18,"x":17,"g":2,"y":1.52},{"p":18,"x":18,"g":2,"y":-1.06},{"p":18,"x":19,"g":2,"y":0.49},{"p":18,"x":20,"g":2,"y":0.38},{"p":18,"x":21,"g":2,"y":-1.37},{"p":18,"x":22,"g":2,"y":1.44},{"p":18,"x":23,"g":2,"y":-0.60},{"p":18,"x":24,"g":2,"y":-0.78},{"p":18,"x":25,"g":2,"y":-2.34},{"p":18,"x":26,"g":2,"y":0.21},{"p":18,"x":27,"g":2,"y":1.23},{"p":18,"x":28,"g":2,"y":0.56},
{"p":18,"x":29,"g":3,"y":0.61},{"p":18,"x":30,"g":3,"y":0.74},{"p":18,"x":31,"g":3,"y":-0.26},{"p":18,"x":32,"g":3,"y":-0.56},{"p":18,"x":33,"g":3,"y":-0.97},{"p":18,"x":34,"g":3,"y":1.23},{"p":18,"x":35,"g":3,"y":-0.74},{"p":18,"x":36,"g":3,"y":-0.28},{"p":18,"x":37,"g":3,"y":1.35},{"p":18,"x":38,"g":3,"y":0.58},{"p":18,"x":39,"g":3,"y":0.08},{"p":18,"x":40,"g":3,"y":1.28},{"p":18,"x":41,"g":3,"y":-1.31},{"p":18,"x":42,"g":3,"y":-1.12},
{"p":18,"x":43,"g":4,"y":-0.14},{"p":18,"x":44,"g":4,"y":0.98},{"p":18,"x":45,"g":4,"y":-0.17},{"p":18,"x":46,"g":4,"y":-0.50},{"p":18,"x":47,"g":4,"y":-0.14},{"p":18,"x":48,"g":4,"y":0.57},{"p":18,"x":49,"g":4,"y":0.55},{"p":18,"x":50,"g":4,"y":0.66},{"p":18,"x":51,"g":4,"y":-0.70},{"p":18,"x":52,"g":4,"y":-1.42},{"p":18,"x":53,"g":4,"y":0.91},{"p":18,"x":54,"g":4,"y":-1.87},{"p":18,"x":55,"g":4,"y":-0.24},{"p":18,"x":56,"g":4,"y":0.33},
{"p":18,"x":57,"g":5,"y":0.02},{"p":18,"x":58,"g":5,"y":0.24},{"p":18,"x":59,"g":5,"y":-0.94},{"p":18,"x":60,"g":5,"y":-0.22},{"p":18,"x":61,"g":5,"y":0.49},{"p":18,"x":62,"g":5,"y":1.25},{"p":18,"x":63,"g":5,"y":0.08},{"p":18,"x":64,"g":5,"y":-0.33},{"p":18,"x":65,"g":5,"y":-1.10},{"p":18,"x":66,"g":5,"y":1.01},{"p":18,"x":67,"g":5,"y":0.08},{"p":18,"x":68,"g":5,"y":1.44},{"p":18,"x":69,"g":5,"y":-1.58},{"p":18,"x":70,"g":5,"y":0.07},
{"p":18,"x":71,"g":6,"y":1.36},{"p":18,"x":72,"g":6,"y":-1.08},{"p":18,"x":73,"g":6,"y":1.88},{"p":18,"x":74,"g":6,"y":-1.16},{"p":18,"x":75,"g":6,"y":0.59},{"p":18,"x":76,"g":6,"y":-1.36},{"p":18,"x":77,"g":6,"y":-1.01},{"p":18,"x":78,"g":6,"y":-0.82},{"p":18,"x":79,"g":6,"y":0.37},{"p":18,"x":80,"g":6,"y":-0.02},{"p":18,"x":81,"g":6,"y":1.95},{"p":18,"x":82,"g":6,"y":-1.42},{"p":18,"x":83,"g":6,"y":0.94},{"p":18,"x":84,"g":6,"y":0.09},
{"p":19,"x":1,"g":1,"y":2.82},{"p":19,"x":2,"g":1,"y":-2.31},{"p":19,"x":3,"g":1,"y":0.70},{"p":19,"x":4,"g":1,"y":-0.28},{"p":19,"x":5,"g":1,"y":-1.03},{"p":19,"x":6,"g":1,"y":-0.38},{"p":19,"x":7,"g":1,"y":-0.40},{"p":19,"x":8,"g":1,"y":-0.92},{"p":19,"x":9,"g":1,"y":-1.46},{"p":19,"x":10,"g":1,"y":0.86},{"p":19,"x":11,"g":1,"y":-0.79},{"p":19,"x":12,"g":1,"y":1.48},{"p":19,"x":13,"g":1,"y":0.67},{"p":19,"x":14,"g":1,"y":0.04},
{"p":19,"x":15,"g":2,"y":-0.51},{"p":19,"x":16,"g":2,"y":0.12},{"p":19,"x":17,"g":2,"y":-0.22},{"p":19,"x":18,"g":2,"y":1.00},{"p":19,"x":19,"g":2,"y":0.58},{"p":19,"x":20,"g":2,"y":0.31},{"p":19,"x":21,"g":2,"y":0.19},{"p":19,"x":22,"g":2,"y":1.99},{"p":19,"x":23,"g":2,"y":-0.47},{"p":19,"x":24,"g":2,"y":0.38},{"p":19,"x":25,"g":2,"y":-1.42},{"p":19,"x":26,"g":2,"y":1.41},{"p":19,"x":27,"g":2,"y":-2.23},{"p":19,"x":28,"g":2,"y":-0.76},
{"p":19,"x":29,"g":3,"y":-0.06},{"p":19,"x":30,"g":3,"y":2.01},{"p":19,"x":31,"g":3,"y":-0.92},{"p":19,"x":32,"g":3,"y":-0.34},{"p":19,"x":33,"g":3,"y":0.25},{"p":19,"x":34,"g":3,"y":0.32},{"p":19,"x":35,"g":3,"y":0.63},{"p":19,"x":36,"g":3,"y":-1.18},{"p":19,"x":37,"g":3,"y":0.13},{"p":19,"x":38,"g":3,"y":0.13},{"p":19,"x":39,"g":3,"y":-0.94},{"p":19,"x":40,"g":3,"y":-0.23},{"p":19,"x":41,"g":3,"y":1.17},{"p":19,"x":42,"g":3,"y":-0.83},
{"p":19,"x":43,"g":4,"y":-0.92},{"p":19,"x":44,"g":4,"y":0.74},{"p":19,"x":45,"g":4,"y":1.08},{"p":19,"x":46,"g":4,"y":-0.90},{"p":19,"x":47,"g":4,"y":-0.13},{"p":19,"x":48,"g":4,"y":-0.04},{"p":19,"x":49,"g":4,"y":0.81},{"p":19,"x":50,"g":4,"y":-0.99},{"p":19,"x":51,"g":4,"y":0.21},{"p":19,"x":52,"g":4,"y":0.14},{"p":19,"x":53,"g":4,"y":0.31},{"p":19,"x":54,"g":4,"y":-0.68},{"p":19,"x":55,"g":4,"y":0.19},{"p":19,"x":56,"g":4,"y":-0.61},
{"p":19,"x":57,"g":5,"y":-0.02},{"p":19,"x":58,"g":5,"y":-1.82},{"p":19,"x":59,"g":5,"y":-0.12},{"p":19,"x":60,"g":5,"y":0.52},{"p":19,"x":61,"g":5,"y":-0.14},{"p":19,"x":62,"g":5,"y":1.12},{"p":19,"x":63,"g":5,"y":-1.57},{"p":19,"x":64,"g":5,"y":-0.47},{"p":19,"x":65,"g":5,"y":1.17},{"p":19,"x":66,"g":5,"y":0.21},{"p":19,"x":67,"g":5,"y":1.34},{"p":19,"x":68,"g":5,"y":-0.84},{"p":19,"x":69,"g":5,"y":-0.66},{"p":19,"x":70,"g":5,"y":1.72},
{"p":19,"x":71,"g":6,"y":0.36},{"p":19,"x":72,"g":6,"y":0.99},{"p":19,"x":73,"g":6,"y":0.36},{"p":19,"x":74,"g":6,"y":-1.31},{"p":19,"x":75,"g":6,"y":0.72},{"p":19,"x":76,"g":6,"y":-1.75},{"p":19,"x":77,"g":6,"y":-0.77},{"p":19,"x":78,"g":6,"y":1.66},{"p":19,"x":79,"g":6,"y":0.36},{"p":19,"x":80,"g":6,"y":-0.92},{"p":19,"x":81,"g":6,"y":-1.29},{"p":19,"x":82,"g":6,"y":-0.38},{"p":19,"x":83,"g":6,"y":0.71},{"p":19,"x":84,"g":6,"y":1.20},
{"p":20,"x":1,"g":1,"y":-0.43},{"p":20,"x":2,"g":1,"y":1.69},{"p":20,"x":3,"g":1,"y":-0.99},{"p":20,"x":4,"g":1,"y":0.60},{"p":20,"x":5,"g":1,"y":1.10},{"p":20,"x":6,"g":1,"y":-0.31},{"p":20,"x":7,"g":1,"y":-0.17},{"p":20,"x":8,"g":1,"y":1.03},{"p":20,"x":9,"g":1,"y":0.77},{"p":20,"x":10,"g":1,"y":1.38},{"p":20,"x":11,"g":1,"y":1.52},{"p":20,"x":12,"g":1,"y":-2.35},{"p":20,"x":13,"g":1,"y":-0.66},{"p":20,"x":14,"g":1,"y":-1.91},
{"p":20,"x":15,"g":2,"y":0.41},{"p":20,"x":16,"g":2,"y":-1.24},{"p":20,"x":17,"g":2,"y":0.88},{"p":20,"x":18,"g":2,"y":1.19},{"p":20,"x":19,"g":2,"y":-0.95},{"p":20,"x":20,"g":2,"y":0.71},{"p":20,"x":21,"g":2,"y":-0.69},{"p":20,"x":22,"g":2,"y":1.72},{"p":20,"x":23,"g":2,"y":-0.22},{"p":20,"x":24,"g":2,"y":-1.87},{"p":20,"x":25,"g":2,"y":0.47},{"p":20,"x":26,"g":2,"y":-1.43},{"p":20,"x":27,"g":2,"y":2.11},{"p":20,"x":28,"g":2,"y":-0.58},
{"p":20,"x":29,"g":3,"y":-0.33},{"p":20,"x":30,"g":3,"y":0.18},{"p":20,"x":31,"g":3,"y":0.92},{"p":20,"x":32,"g":3,"y":-0.87},{"p":20,"x":33,"g":3,"y":-1.49},{"p":20,"x":34,"g":3,"y":-0.23},{"p":20,"x":35,"g":3,"y":1.64},{"p":20,"x":36,"g":3,"y":-1.19},{"p":20,"x":37,"g":3,"y":-0.65},{"p":20,"x":38,"g":3,"y":-0.26},{"p":20,"x":39,"g":3,"y":0.69},{"p":20,"x":40,"g":3,"y":1.22},{"p":20,"x":41,"g":3,"y":-1.68},{"p":20,"x":42,"g":3,"y":-0.11},
{"p":20,"x":43,"g":4,"y":-0.81},{"p":20,"x":44,"g":4,"y":0.21},{"p":20,"x":45,"g":4,"y":-0.88},{"p":20,"x":46,"g":4,"y":0.19},{"p":20,"x":47,"g":4,"y":-0.74},{"p":20,"x":48,"g":4,"y":0.46},{"p":20,"x":49,"g":4,"y":-1.28},{"p":20,"x":50,"g":4,"y":0.40},{"p":20,"x":51,"g":4,"y":1.55},{"p":20,"x":52,"g":4,"y":0.23},{"p":20,"x":53,"g":4,"y":-0.98},{"p":20,"x":54,"g":4,"y":-0.26},{"p":20,"x":55,"g":4,"y":0.80},{"p":20,"x":56,"g":4,"y":0.73},
{"p":20,"x":57,"g":5,"y":1.25},{"p":20,"x":58,"g":5,"y":-0.42},{"p":20,"x":59,"g":5,"y":-0.29},{"p":20,"x":60,"g":5,"y":-0.28},{"p":20,"x":61,"g":5,"y":0.48},{"p":20,"x":62,"g":5,"y":1.24},{"p":20,"x":63,"g":5,"y":0.07},{"p":20,"x":64,"g":5,"y":-2.38},{"p":20,"x":65,"g":5,"y":-0.43},{"p":20,"x":66,"g":5,"y":-0.54},{"p":20,"x":67,"g":5,"y":0.60},{"p":20,"x":68,"g":5,"y":-0.33},{"p":20,"x":69,"g":5,"y":1.06},{"p":20,"x":70,"g":5,"y":-0.02},
{"p":20,"x":71,"g":6,"y":-1.05},{"p":20,"x":72,"g":6,"y":0.18},{"p":20,"x":73,"g":6,"y":-0.22},{"p":20,"x":74,"g":6,"y":-0.63},{"p":20,"x":75,"g":6,"y":-0.03},{"p":20,"x":76,"g":6,"y":1.12},{"p":20,"x":77,"g":6,"y":-0.35},{"p":20,"x":78,"g":6,"y":-1.29},{"p":20,"x":79,"g":6,"y":1.89},{"p":20,"x":80,"g":6,"y":0.38},{"p":20,"x":81,"g":6,"y":0.56},{"p":20,"x":82,"g":6,"y":0.34},{"p":20,"x":83,"g":6,"y":-0.59},{"p":20,"x":84,"g":6,"y":-0.25}
]},
"facet": {"field": "p", "type": "ordinal", "title": null,
          "header": {"title": null, "labelExpr": "''", "labelFontSize": 1, "labelPadding": 0, "labelColor": "white"}},
"columns": 5,
"spacing": 22.9,
"spec": {
  "width": 689.5,
  "height": 868.5,
  "layer": [
    {
      "mark": {"type": "point", "filled": true, "size": 200, "opacity": 1, "strokeWidth": 0},
      "encoding": {
        "x": {"field": "x", "type": "quantitative",
              "scale": {"domain": [-3.15, 88.15], "nice": false, "zero": false},
              "axis": {"values": [0,10,20,30,40,50,60,70,80],
                       "gridWidth": {"condition": {"test": "datum.value % 20 === 0", "value": 4.2}, "value": 2.1}}},
        "y": {"field": "y", "type": "quantitative",
              "scale": {"domain": [-3.43, 4.537], "nice": false, "zero": false},
              "axis": {"values": [-3,-2,-1,0,1,2,3],
                       "gridWidth": {"condition": {"test": "datum.value % 2 === 0", "value": 4.2}, "value": 2.1}}},
        "color": {"field": "g", "type": "nominal",
                  "scale": {"domain": [1,2,3,4,5,6], "range": ["#F8766D","#B79F00","#00BA38","#00BFC4","#619CFF","#F564E3"]},
                  "legend": null}
      }
    },
    {
      "transform": [{"aggregate": [{"op": "count", "as": "n"}], "groupby": ["p"]}],
      "layer": [
        {"mark": {"type": "rule", "color": "#000000", "strokeWidth": 4.2},
         "encoding": {"y": {"datum": 0}}},
        {"mark": {"type": "rect", "color": "#D9D9D9"},
         "encoding": {"x": {"datum": -3.15}, "x2": {"datum": 88.15}, "y": {"datum": 3.89}, "y2": {"datum": 4.537}}},
        {"mark": {"type": "text", "font": "Liberation Sans", "fontSize": 38.5, "color": "#1A1A1A", "baseline": "middle", "align": "center"},
         "encoding": {"x": {"datum": 42.5}, "y": {"datum": 4.213}, "text": {"field": "p", "type": "nominal"}}}
      ]
    }
  ]
},
"config": {
  "view": {"fill": "#EBEBEB", "stroke": null},
  "axis": {"title": null, "labels": false, "ticks": false, "domain": false, "grid": true, "gridColor": "#FFFFFF", "gridOpacity": 1, "minExtent": 0, "maxExtent": 0, "offset": 0},
  "header": {"title": null, "labelExpr": "''", "labelFontSize": 1, "labelPadding": 0},
  "headerFacet": {"title": null, "labelExpr": "''", "labelFontSize": 1, "labelPadding": 0},
  "font": "Liberation Sans"
}
}
